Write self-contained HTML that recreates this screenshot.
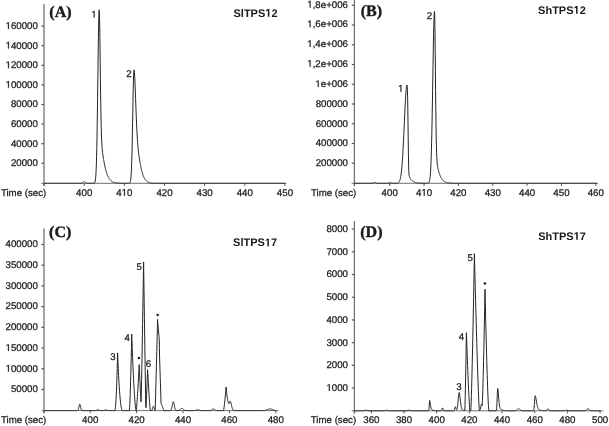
<!DOCTYPE html>
<html><head><meta charset="utf-8"><style>
html,body{margin:0;padding:0;background:#fff;overflow:hidden}
svg{display:block;filter:blur(0.3px)}
</style></head><body>
<svg width="609" height="426" viewBox="0 0 609 426" font-family='"Liberation Sans", sans-serif'>
<rect width="609" height="426" fill="#fff"/>
<g opacity="0.999" text-rendering="geometricPrecision">
<line x1="44.00" y1="4.00" x2="44.00" y2="185.90" stroke="#9a9a9a" stroke-width="1.8"/>
<line x1="41.20" y1="183.30" x2="286.50" y2="183.30" stroke="#707070" stroke-width="1.0"/>
<line x1="44.00" y1="183.30" x2="44.00" y2="185.90" stroke="#555" stroke-width="1"/>
<line x1="84.20" y1="183.30" x2="84.20" y2="185.90" stroke="#555" stroke-width="1"/>
<g transform="translate(84.20,192.40)"><text x="-8.09" y="3.34" font-family='"Liberation Sans", sans-serif' font-weight="normal" font-size="9.7" fill="#1a1a1a" stroke="#1a1a1a" stroke-width="0.25">400</text></g>
<line x1="124.35" y1="183.30" x2="124.35" y2="185.90" stroke="#555" stroke-width="1"/>
<g transform="translate(124.35,192.40)"><text x="-8.09" y="3.34" font-family='"Liberation Sans", sans-serif' font-weight="normal" font-size="9.7" fill="#1a1a1a" stroke="#1a1a1a" stroke-width="0.25">4 0</text><path transform="translate(-2.70,3.34) scale(0.004736,-0.004736)" d="M515,0 L515,1237 L197,1010 L197,1180 L530,1409 L696,1409 L696,0 Z" fill="#1a1a1a" stroke="#1a1a1a" stroke-width="52.8"/></g>
<line x1="164.50" y1="183.30" x2="164.50" y2="185.90" stroke="#555" stroke-width="1"/>
<g transform="translate(164.50,192.40)"><text x="-8.09" y="3.34" font-family='"Liberation Sans", sans-serif' font-weight="normal" font-size="9.7" fill="#1a1a1a" stroke="#1a1a1a" stroke-width="0.25">420</text></g>
<line x1="204.65" y1="183.30" x2="204.65" y2="185.90" stroke="#555" stroke-width="1"/>
<g transform="translate(204.65,192.40)"><text x="-8.09" y="3.34" font-family='"Liberation Sans", sans-serif' font-weight="normal" font-size="9.7" fill="#1a1a1a" stroke="#1a1a1a" stroke-width="0.25">430</text></g>
<line x1="244.80" y1="183.30" x2="244.80" y2="185.90" stroke="#555" stroke-width="1"/>
<g transform="translate(244.80,192.40)"><text x="-8.09" y="3.34" font-family='"Liberation Sans", sans-serif' font-weight="normal" font-size="9.7" fill="#1a1a1a" stroke="#1a1a1a" stroke-width="0.25">440</text></g>
<line x1="284.95" y1="183.30" x2="284.95" y2="185.90" stroke="#555" stroke-width="1"/>
<g transform="translate(284.95,192.40)"><text x="-8.09" y="3.34" font-family='"Liberation Sans", sans-serif' font-weight="normal" font-size="9.7" fill="#1a1a1a" stroke="#1a1a1a" stroke-width="0.25">450</text></g>
<line x1="41.40" y1="163.30" x2="44.00" y2="163.30" stroke="#555" stroke-width="1.2"/>
<g transform="translate(24.41,162.80)"><text x="-13.49" y="3.34" font-family='"Liberation Sans", sans-serif' font-weight="normal" font-size="9.7" fill="#1a1a1a" stroke="#1a1a1a" stroke-width="0.25">20000</text></g>
<line x1="41.40" y1="143.70" x2="44.00" y2="143.70" stroke="#555" stroke-width="1.2"/>
<g transform="translate(24.41,143.20)"><text x="-13.49" y="3.34" font-family='"Liberation Sans", sans-serif' font-weight="normal" font-size="9.7" fill="#1a1a1a" stroke="#1a1a1a" stroke-width="0.25">40000</text></g>
<line x1="41.40" y1="124.10" x2="44.00" y2="124.10" stroke="#555" stroke-width="1.2"/>
<g transform="translate(24.41,123.60)"><text x="-13.49" y="3.34" font-family='"Liberation Sans", sans-serif' font-weight="normal" font-size="9.7" fill="#1a1a1a" stroke="#1a1a1a" stroke-width="0.25">60000</text></g>
<line x1="41.40" y1="104.50" x2="44.00" y2="104.50" stroke="#555" stroke-width="1.2"/>
<g transform="translate(24.41,104.00)"><text x="-13.49" y="3.34" font-family='"Liberation Sans", sans-serif' font-weight="normal" font-size="9.7" fill="#1a1a1a" stroke="#1a1a1a" stroke-width="0.25">80000</text></g>
<line x1="41.40" y1="84.90" x2="44.00" y2="84.90" stroke="#555" stroke-width="1.2"/>
<g transform="translate(21.72,84.40)"><text x="-16.18" y="3.34" font-family='"Liberation Sans", sans-serif' font-weight="normal" font-size="9.7" fill="#1a1a1a" stroke="#1a1a1a" stroke-width="0.25"> 00000</text><path transform="translate(-16.18,3.34) scale(0.004736,-0.004736)" d="M515,0 L515,1237 L197,1010 L197,1180 L530,1409 L696,1409 L696,0 Z" fill="#1a1a1a" stroke="#1a1a1a" stroke-width="52.8"/></g>
<line x1="41.40" y1="65.30" x2="44.00" y2="65.30" stroke="#555" stroke-width="1.2"/>
<g transform="translate(21.72,64.80)"><text x="-16.18" y="3.34" font-family='"Liberation Sans", sans-serif' font-weight="normal" font-size="9.7" fill="#1a1a1a" stroke="#1a1a1a" stroke-width="0.25"> 20000</text><path transform="translate(-16.18,3.34) scale(0.004736,-0.004736)" d="M515,0 L515,1237 L197,1010 L197,1180 L530,1409 L696,1409 L696,0 Z" fill="#1a1a1a" stroke="#1a1a1a" stroke-width="52.8"/></g>
<line x1="41.40" y1="45.70" x2="44.00" y2="45.70" stroke="#555" stroke-width="1.2"/>
<g transform="translate(21.72,45.20)"><text x="-16.18" y="3.34" font-family='"Liberation Sans", sans-serif' font-weight="normal" font-size="9.7" fill="#1a1a1a" stroke="#1a1a1a" stroke-width="0.25"> 40000</text><path transform="translate(-16.18,3.34) scale(0.004736,-0.004736)" d="M515,0 L515,1237 L197,1010 L197,1180 L530,1409 L696,1409 L696,0 Z" fill="#1a1a1a" stroke="#1a1a1a" stroke-width="52.8"/></g>
<line x1="41.40" y1="26.10" x2="44.00" y2="26.10" stroke="#555" stroke-width="1.2"/>
<g transform="translate(21.72,25.60)"><text x="-16.18" y="3.34" font-family='"Liberation Sans", sans-serif' font-weight="normal" font-size="9.7" fill="#1a1a1a" stroke="#1a1a1a" stroke-width="0.25"> 60000</text><path transform="translate(-16.18,3.34) scale(0.004736,-0.004736)" d="M515,0 L515,1237 L197,1010 L197,1180 L530,1409 L696,1409 L696,0 Z" fill="#1a1a1a" stroke="#1a1a1a" stroke-width="52.8"/></g>
<path d="M44.00,183.30 L44.20,183.30 L44.40,183.30 L44.60,183.30 L44.80,183.30 L45.00,183.30 L45.20,183.30 L45.40,183.30 L45.60,183.30 L45.80,183.30 L46.00,183.30 L46.20,183.30 L46.40,183.30 L46.60,183.30 L46.80,183.30 L47.00,183.30 L47.20,183.30 L47.40,183.30 L47.60,183.30 L47.80,183.30 L48.00,183.30 L48.20,183.30 L48.40,183.30 L48.60,183.30 L48.80,183.30 L49.00,183.30 L49.20,183.30 L49.40,183.30 L49.60,183.30 L49.80,183.30 L50.00,183.30 L50.20,183.30 L50.40,183.30 L50.60,183.30 L50.80,183.30 L51.00,183.30 L51.20,183.30 L51.40,183.30 L51.60,183.30 L51.80,183.30 L52.00,183.30 L52.20,183.30 L52.40,183.30 L52.60,183.30 L52.80,183.30 L53.00,183.30 L53.20,183.30 L53.40,183.30 L53.60,183.30 L53.80,183.30 L54.00,183.30 L54.20,183.30 L54.40,183.30 L54.60,183.30 L54.80,183.30 L55.00,183.30 L55.20,183.30 L55.40,183.30 L55.60,183.30 L55.80,183.30 L56.00,183.30 L56.20,183.30 L56.40,183.30 L56.60,183.30 L56.80,183.30 L57.00,183.30 L57.20,183.30 L57.40,183.30 L57.60,183.30 L57.80,183.30 L58.00,183.30 L58.20,183.30 L58.40,183.30 L58.60,183.30 L58.80,183.30 L59.00,183.30 L59.20,183.30 L59.40,183.30 L59.60,183.30 L59.80,183.30 L60.00,183.30 L60.20,183.30 L60.40,183.30 L60.60,183.30 L60.80,183.30 L61.00,183.30 L61.20,183.30 L61.40,183.30 L61.60,183.30 L61.80,183.30 L62.00,183.30 L62.20,183.30 L62.40,183.30 L62.60,183.30 L62.80,183.30 L63.00,183.30 L63.20,183.30 L63.40,183.30 L63.60,183.30 L63.80,183.30 L64.00,183.30 L64.20,183.30 L64.40,183.30 L64.60,183.30 L64.80,183.30 L65.00,183.30 L65.20,183.30 L65.40,183.30 L65.60,183.30 L65.80,183.30 L66.00,183.30 L66.20,183.30 L66.40,183.30 L66.60,183.30 L66.80,183.30 L67.00,183.30 L67.20,183.30 L67.40,183.30 L67.60,183.30 L67.80,183.30 L68.00,183.30 L68.20,183.30 L68.40,183.30 L68.60,183.30 L68.80,183.30 L69.00,183.30 L69.20,183.30 L69.40,183.30 L69.60,183.30 L69.80,183.30 L70.00,183.30 L70.20,183.30 L70.40,183.30 L70.60,183.30 L70.80,183.30 L71.00,183.30 L71.20,183.30 L71.40,183.30 L71.60,183.30 L71.80,183.30 L72.00,183.30 L72.20,183.30 L72.40,183.30 L72.60,183.30 L72.80,183.30 L73.00,183.30 L73.20,183.30 L73.40,183.30 L73.60,183.30 L73.80,183.30 L74.00,183.30 L74.20,183.30 L74.40,183.30 L74.60,183.30 L74.80,183.30 L75.00,183.30 L75.20,183.30 L75.40,183.30 L75.60,183.30 L75.80,183.30 L76.00,183.30 L76.20,183.30 L76.40,183.30 L76.60,183.30 L76.80,183.30 L77.00,183.30 L77.20,183.30 L77.40,183.30 L77.60,183.30 L77.80,183.30 L78.00,183.30 L78.20,183.30 L78.40,183.30 L78.60,183.30 L78.80,183.30 L79.00,183.30 L79.20,183.30 L79.40,183.30 L79.60,183.30 L79.80,183.30 L80.00,183.30 L80.20,183.30 L80.40,183.30 L80.60,183.30 L80.80,183.30 L81.00,183.29 L81.20,183.29 L81.40,183.27 L81.60,183.25 L81.80,183.22 L82.00,183.17 L82.20,183.10 L82.40,183.00 L82.60,182.88 L82.80,182.72 L83.00,182.53 L83.20,182.32 L83.40,182.10 L83.60,181.89 L83.80,181.71 L84.00,181.58 L84.20,181.51 L84.30,181.50 L84.40,181.51 L84.60,181.58 L84.80,181.71 L85.00,181.89 L85.20,182.10 L85.40,182.32 L85.60,182.53 L85.80,182.72 L86.00,182.88 L86.20,183.00 L86.40,183.10 L86.60,183.17 L86.80,183.22 L87.00,183.25 L87.20,183.27 L87.40,183.29 L87.60,183.29 L87.80,183.30 L88.00,183.30 L88.20,183.30 L88.40,183.30 L88.60,183.30 L88.80,183.30 L89.00,183.30 L89.20,183.30 L89.40,183.30 L89.60,183.30 L89.80,183.30 L90.00,183.30 L90.20,183.30 L90.40,183.30 L90.60,183.30 L90.80,183.30 L91.00,183.30 L91.20,183.30 L91.40,183.30 L91.60,183.30 L91.80,183.30 L92.00,183.30 L92.20,183.30 L92.40,183.30 L92.60,183.30 L92.80,183.30 L93.00,183.30 L93.20,183.29 L93.40,183.28 L93.60,183.27 L93.80,183.24 L94.00,183.20 L94.20,183.12 L94.40,182.99 L94.60,182.78 L94.80,182.44 L95.00,181.93 L95.20,181.15 L95.40,180.00 L95.60,178.34 L95.80,176.02 L96.00,172.85 L96.20,168.61 L96.40,163.11 L96.60,156.14 L96.80,147.57 L97.00,137.31 L97.20,125.40 L97.40,111.97 L97.60,97.34 L97.80,81.96 L98.00,66.42 L98.20,51.43 L98.40,37.74 L98.60,26.12 L98.80,17.25 L99.00,11.69 L99.20,9.80 L99.40,12.98 L99.60,20.91 L99.80,32.65 L100.00,47.01 L100.20,62.67 L100.40,78.39 L100.60,93.16 L100.80,106.27 L101.00,117.36 L101.20,126.36 L101.40,133.45 L101.60,138.90 L101.80,143.07 L102.00,146.28 L102.20,148.81 L102.40,150.88 L102.60,152.64 L102.80,154.21 L103.00,155.64 L103.20,156.99 L103.40,158.27 L103.60,159.49 L103.80,160.66 L104.00,161.79 L104.20,162.87 L104.40,163.92 L104.60,164.92 L104.80,165.87 L105.00,166.79 L105.20,167.67 L105.40,168.51 L105.60,169.31 L105.80,170.08 L106.00,170.81 L106.20,171.50 L106.40,172.16 L106.60,172.79 L106.80,173.39 L107.00,173.96 L107.20,174.50 L107.40,175.02 L107.60,175.50 L107.80,175.96 L108.00,176.40 L108.20,176.81 L108.40,177.21 L108.60,177.58 L108.80,177.93 L109.00,178.26 L109.20,178.57 L109.40,178.86 L109.60,179.14 L109.80,179.40 L110.00,179.65 L110.20,179.88 L110.40,180.10 L110.60,180.30 L110.80,180.50 L111.00,180.68 L111.20,180.85 L111.40,181.01 L111.60,181.16 L111.80,181.30 L112.00,181.44 L112.20,181.56 L112.40,181.68 L112.60,181.79 L112.80,181.89 L113.00,181.98 L113.20,182.07 L113.40,182.16 L113.60,182.24 L113.80,182.31 L114.00,182.38 L114.20,182.44 L114.40,182.50 L114.60,182.56 L114.80,182.61 L115.00,182.66 L115.20,182.71 L115.40,182.75 L115.60,182.79 L115.80,182.82 L116.00,182.86 L116.20,182.89 L116.40,182.92 L116.60,182.95 L116.80,182.97 L117.00,183.00 L117.20,183.02 L117.40,183.04 L117.60,183.06 L117.80,183.08 L118.00,183.09 L118.20,183.11 L118.40,183.12 L118.60,183.14 L118.80,183.15 L119.00,183.16 L119.20,183.17 L119.40,183.18 L119.60,183.19 L119.80,183.20 L120.00,183.21 L120.20,183.21 L120.40,183.22 L120.60,183.23 L120.80,183.23 L121.00,183.24 L121.20,183.24 L121.40,183.25 L121.60,183.25 L121.80,183.25 L122.00,183.26 L122.20,183.26 L122.40,183.26 L122.60,183.27 L122.80,183.27 L123.00,183.27 L123.20,183.27 L123.40,183.28 L123.60,183.28 L123.80,183.28 L124.00,183.28 L124.20,183.28 L124.40,183.28 L124.60,183.29 L124.80,183.29 L125.00,183.29 L125.20,183.29 L125.40,183.29 L125.60,183.29 L125.80,183.29 L126.00,183.29 L126.20,183.29 L126.40,183.29 L126.60,183.29 L126.80,183.29 L127.00,183.29 L127.20,183.30 L127.40,183.30 L127.60,183.30 L127.80,183.30 L128.00,183.30 L128.20,183.29 L128.40,183.29 L128.60,183.29 L128.80,183.28 L129.00,183.26 L129.20,183.23 L129.40,183.17 L129.60,183.07 L129.80,182.90 L130.00,182.62 L130.20,182.18 L130.40,181.50 L130.60,180.49 L130.80,179.01 L131.00,176.93 L131.20,174.06 L131.40,170.25 L131.60,165.33 L131.80,159.18 L132.00,151.74 L132.20,143.05 L132.40,133.27 L132.60,122.68 L132.80,111.71 L133.00,100.88 L133.20,90.82 L133.40,82.15 L133.60,75.46 L133.80,71.24 L134.00,69.80 L134.20,70.49 L134.40,72.29 L134.60,75.06 L134.80,78.68 L135.00,83.01 L135.20,87.87 L135.40,93.12 L135.60,98.58 L135.80,104.10 L136.00,109.56 L136.20,114.82 L136.40,119.82 L136.60,124.49 L136.80,128.79 L137.00,132.71 L137.20,136.25 L137.40,139.44 L137.60,142.29 L137.80,144.86 L138.00,147.16 L138.20,149.24 L138.40,151.13 L138.60,152.87 L138.80,154.48 L139.00,155.98 L139.20,157.39 L139.40,158.73 L139.60,160.00 L139.80,161.21 L140.00,162.37 L140.20,163.49 L140.40,164.56 L140.60,165.58 L140.80,166.57 L141.00,167.51 L141.20,168.42 L141.40,169.29 L141.60,170.12 L141.80,170.91 L142.00,171.66 L142.20,172.38 L142.40,173.07 L142.60,173.72 L142.80,174.34 L143.00,174.92 L143.20,175.48 L143.40,176.00 L143.60,176.50 L143.80,176.96 L144.00,177.40 L144.20,177.82 L144.40,178.21 L144.60,178.57 L144.80,178.92 L145.00,179.24 L145.20,179.54 L145.40,179.82 L145.60,180.09 L145.80,180.33 L146.00,180.56 L146.20,180.78 L146.40,180.97 L146.60,181.16 L146.80,181.33 L147.00,181.49 L147.20,181.64 L147.40,181.78 L147.60,181.90 L147.80,182.02 L148.00,182.13 L148.20,182.23 L148.40,182.32 L148.60,182.40 L148.80,182.48 L149.00,182.55 L149.20,182.62 L149.40,182.68 L149.60,182.74 L149.80,182.79 L150.00,182.83 L150.20,182.88 L150.40,182.92 L150.60,182.95 L150.80,182.98 L151.00,183.01 L151.20,183.04 L151.40,183.07 L151.60,183.09 L151.80,183.11 L152.00,183.13 L152.20,183.15 L152.40,183.16 L152.60,183.17 L152.80,183.19 L153.00,183.20 L153.20,183.21 L153.40,183.22 L153.60,183.23 L153.80,183.23 L154.00,183.24 L154.20,183.25 L154.40,183.25 L154.60,183.26 L154.80,183.26 L155.00,183.27 L155.20,183.27 L155.40,183.27 L155.60,183.28 L155.80,183.28 L156.00,183.28 L156.20,183.28 L156.40,183.28 L156.60,183.29 L156.80,183.29 L157.00,183.29 L157.20,183.29 L157.40,183.29 L157.60,183.29 L157.80,183.29 L158.00,183.29 L158.20,183.29 L158.40,183.30 L158.60,183.30 L158.80,183.30 L159.00,183.30 L159.20,183.30 L159.40,183.30 L159.60,183.30 L159.80,183.30 L160.00,183.30 L160.20,183.30 L160.40,183.30 L160.60,183.30 L160.80,183.30 L161.00,183.30 L161.20,183.30 L161.40,183.30 L161.60,183.30 L161.80,183.30 L162.00,183.30 L162.20,183.30 L162.40,183.30 L162.60,183.30 L162.80,183.30 L163.00,183.30 L163.20,183.30 L163.40,183.30 L163.60,183.30 L163.80,183.30 L164.00,183.30 L164.20,183.30 L164.40,183.30 L164.60,183.30 L164.80,183.30 L165.00,183.30 L165.20,183.30 L165.40,183.30 L165.60,183.30 L165.80,183.30 L166.00,183.30 L166.20,183.30 L166.40,183.30 L166.60,183.30 L166.80,183.30 L167.00,183.30 L167.20,183.30 L167.40,183.30 L167.60,183.30 L167.80,183.30 L168.00,183.30 L168.20,183.30 L168.40,183.30 L168.60,183.30 L168.80,183.30 L169.00,183.30 L169.20,183.30 L169.40,183.30 L169.60,183.30 L169.80,183.30 L170.00,183.30 L170.20,183.30 L170.40,183.30 L170.60,183.30 L170.80,183.30 L171.00,183.30 L171.20,183.30 L171.40,183.30 L171.60,183.30 L171.80,183.30 L172.00,183.30 L172.20,183.30 L172.40,183.30 L172.60,183.30 L172.80,183.30 L173.00,183.30 L173.20,183.30 L173.40,183.30 L173.60,183.30 L173.80,183.30 L174.00,183.30 L174.20,183.30 L174.40,183.30 L174.60,183.30 L174.80,183.30 L175.00,183.30 L175.20,183.30 L175.40,183.30 L175.60,183.30 L175.80,183.30 L176.00,183.30 L176.20,183.30 L176.40,183.30 L176.60,183.30 L176.80,183.30 L177.00,183.30 L177.20,183.30 L177.40,183.30 L177.60,183.30 L177.80,183.30 L178.00,183.30 L178.20,183.30 L178.40,183.30 L178.60,183.30 L178.80,183.30 L179.00,183.30 L179.20,183.30 L179.40,183.30 L179.60,183.30 L179.80,183.30 L180.00,183.30 L180.20,183.30 L180.40,183.30 L180.60,183.30 L180.80,183.30 L181.00,183.30 L181.20,183.30 L181.40,183.30 L181.60,183.30 L181.80,183.30 L182.00,183.30 L182.20,183.30 L182.40,183.30 L182.60,183.30 L182.80,183.30 L183.00,183.30 L183.20,183.30 L183.40,183.30 L183.60,183.30 L183.80,183.30 L184.00,183.30 L184.20,183.30 L184.40,183.30 L184.60,183.30 L184.80,183.30 L185.00,183.30 L185.20,183.30 L185.40,183.30 L185.60,183.30 L185.80,183.30 L186.00,183.30 L186.20,183.30 L186.40,183.30 L186.60,183.30 L186.80,183.30 L187.00,183.30 L187.20,183.30 L187.40,183.30 L187.60,183.30 L187.80,183.30 L188.00,183.30 L188.20,183.30 L188.40,183.30 L188.60,183.30 L188.80,183.30 L189.00,183.30 L189.20,183.30 L189.40,183.30 L189.60,183.30 L189.80,183.30 L190.00,183.30 L190.20,183.30 L190.40,183.30 L190.60,183.30 L190.80,183.30 L191.00,183.30 L191.20,183.30 L191.40,183.30 L191.60,183.30 L191.80,183.30 L192.00,183.30 L192.20,183.30 L192.40,183.30 L192.60,183.30 L192.80,183.30 L193.00,183.30 L193.20,183.30 L193.40,183.30 L193.60,183.30 L193.80,183.30 L194.00,183.30 L194.20,183.30 L194.40,183.30 L194.60,183.30 L194.80,183.30 L195.00,183.30 L195.20,183.30 L195.40,183.30 L195.60,183.30 L195.80,183.30 L196.00,183.30 L196.20,183.30 L196.40,183.30 L196.60,183.30 L196.80,183.30 L197.00,183.30 L197.20,183.30 L197.40,183.30 L197.60,183.30 L197.80,183.30 L198.00,183.30 L198.20,183.30 L198.40,183.30 L198.60,183.30 L198.80,183.30 L199.00,183.30 L199.20,183.30 L199.40,183.30 L199.60,183.30 L199.80,183.30 L200.00,183.30 L200.20,183.30 L200.40,183.30 L200.60,183.30 L200.80,183.30 L201.00,183.30 L201.20,183.30 L201.40,183.30 L201.60,183.30 L201.80,183.30 L202.00,183.30 L202.20,183.30 L202.40,183.30 L202.60,183.30 L202.80,183.30 L203.00,183.30 L203.20,183.30 L203.40,183.30 L203.60,183.30 L203.80,183.30 L204.00,183.30 L204.20,183.30 L204.40,183.30 L204.60,183.30 L204.80,183.30 L205.00,183.30 L205.20,183.30 L205.40,183.30 L205.60,183.30 L205.80,183.30 L206.00,183.30 L206.20,183.30 L206.40,183.30 L206.60,183.30 L206.80,183.30 L207.00,183.30 L207.20,183.30 L207.40,183.30 L207.60,183.30 L207.80,183.30 L208.00,183.30 L208.20,183.30 L208.40,183.30 L208.60,183.30 L208.80,183.30 L209.00,183.30 L209.20,183.30 L209.40,183.30 L209.60,183.30 L209.80,183.30 L210.00,183.30 L210.20,183.30 L210.40,183.30 L210.60,183.30 L210.80,183.30 L211.00,183.30 L211.20,183.30 L211.40,183.30 L211.60,183.30 L211.80,183.30 L212.00,183.30 L212.20,183.30 L212.40,183.30 L212.60,183.30 L212.80,183.30 L213.00,183.30 L213.20,183.30 L213.40,183.30 L213.60,183.30 L213.80,183.30 L214.00,183.30 L214.20,183.30 L214.40,183.30 L214.60,183.30 L214.80,183.30 L215.00,183.30 L215.20,183.30 L215.40,183.30 L215.60,183.30 L215.80,183.30 L216.00,183.30 L216.20,183.30 L216.40,183.30 L216.60,183.30 L216.80,183.30 L217.00,183.30 L217.20,183.30 L217.40,183.30 L217.60,183.30 L217.80,183.30 L218.00,183.30 L218.20,183.30 L218.40,183.30 L218.60,183.30 L218.80,183.30 L219.00,183.30 L219.20,183.30 L219.40,183.30 L219.60,183.30 L219.80,183.30 L220.00,183.30 L220.20,183.30 L220.40,183.30 L220.60,183.30 L220.80,183.30 L221.00,183.30 L221.20,183.30 L221.40,183.30 L221.60,183.30 L221.80,183.30 L222.00,183.30 L222.20,183.30 L222.40,183.30 L222.60,183.30 L222.80,183.30 L223.00,183.30 L223.20,183.30 L223.40,183.30 L223.60,183.30 L223.80,183.30 L224.00,183.30 L224.20,183.30 L224.40,183.30 L224.60,183.30 L224.80,183.30 L225.00,183.30 L225.20,183.30 L225.40,183.30 L225.60,183.30 L225.80,183.30 L226.00,183.30 L226.20,183.30 L226.40,183.30 L226.60,183.30 L226.80,183.30 L227.00,183.30 L227.20,183.30 L227.40,183.30 L227.60,183.30 L227.80,183.30 L228.00,183.30 L228.20,183.30 L228.40,183.30 L228.60,183.30 L228.80,183.30 L229.00,183.30 L229.20,183.30 L229.40,183.30 L229.60,183.30 L229.80,183.30 L230.00,183.30 L230.20,183.30 L230.40,183.30 L230.60,183.30 L230.80,183.30 L231.00,183.30 L231.20,183.30 L231.40,183.30 L231.60,183.30 L231.80,183.30 L232.00,183.30 L232.20,183.30 L232.40,183.30 L232.60,183.30 L232.80,183.30 L233.00,183.30 L233.20,183.30 L233.40,183.30 L233.60,183.30 L233.80,183.30 L234.00,183.30 L234.20,183.30 L234.40,183.30 L234.60,183.30 L234.80,183.30 L235.00,183.30 L235.20,183.30 L235.40,183.30 L235.60,183.30 L235.80,183.30 L236.00,183.30 L236.20,183.30 L236.40,183.30 L236.60,183.30 L236.80,183.30 L237.00,183.30 L237.20,183.30 L237.40,183.30 L237.60,183.30 L237.80,183.30 L238.00,183.30 L238.20,183.30 L238.40,183.30 L238.60,183.30 L238.80,183.30 L239.00,183.30 L239.20,183.30 L239.40,183.30 L239.60,183.30 L239.80,183.30 L240.00,183.30 L240.20,183.30 L240.40,183.30 L240.60,183.30 L240.80,183.30 L241.00,183.30 L241.20,183.30 L241.40,183.30 L241.60,183.30 L241.80,183.30 L242.00,183.30 L242.20,183.30 L242.40,183.30 L242.60,183.30 L242.80,183.30 L243.00,183.30 L243.20,183.30 L243.40,183.30 L243.60,183.30 L243.80,183.30 L244.00,183.30 L244.20,183.30 L244.40,183.30 L244.60,183.30 L244.80,183.30 L245.00,183.30 L245.20,183.30 L245.40,183.30 L245.60,183.30 L245.80,183.30 L246.00,183.30 L246.20,183.30 L246.40,183.30 L246.60,183.30 L246.80,183.30 L247.00,183.30 L247.20,183.30 L247.40,183.30 L247.60,183.30 L247.80,183.30 L248.00,183.30 L248.20,183.30 L248.40,183.30 L248.60,183.30 L248.80,183.30 L249.00,183.30 L249.20,183.30 L249.40,183.30 L249.60,183.30 L249.80,183.30 L250.00,183.30 L250.20,183.30 L250.40,183.30 L250.60,183.30 L250.80,183.30 L251.00,183.30 L251.20,183.30 L251.40,183.30 L251.60,183.30 L251.80,183.30 L252.00,183.30 L252.20,183.30 L252.40,183.30 L252.60,183.30 L252.80,183.30 L253.00,183.30 L253.20,183.30 L253.40,183.30 L253.60,183.30 L253.80,183.30 L254.00,183.30 L254.20,183.30 L254.40,183.30 L254.60,183.30 L254.80,183.30 L255.00,183.30 L255.20,183.30 L255.40,183.30 L255.60,183.30 L255.80,183.30 L256.00,183.30 L256.20,183.30 L256.40,183.30 L256.60,183.30 L256.80,183.30 L257.00,183.30 L257.20,183.30 L257.40,183.30 L257.60,183.30 L257.80,183.30 L258.00,183.30 L258.20,183.30 L258.40,183.30 L258.60,183.30 L258.80,183.30 L259.00,183.30 L259.20,183.30 L259.40,183.30 L259.60,183.30 L259.80,183.30 L260.00,183.30 L260.20,183.30 L260.40,183.30 L260.60,183.30 L260.80,183.30 L261.00,183.30 L261.20,183.30 L261.40,183.30 L261.60,183.30 L261.80,183.30 L262.00,183.30 L262.20,183.30 L262.40,183.30 L262.60,183.30 L262.80,183.30 L263.00,183.30 L263.20,183.30 L263.40,183.30 L263.60,183.30 L263.80,183.30 L264.00,183.30 L264.20,183.30 L264.40,183.30 L264.60,183.30 L264.80,183.30 L265.00,183.30 L265.20,183.30 L265.40,183.30 L265.60,183.30 L265.80,183.30 L266.00,183.30 L266.20,183.30 L266.40,183.30 L266.60,183.30 L266.80,183.30 L267.00,183.30 L267.20,183.30 L267.40,183.30 L267.60,183.30 L267.80,183.30 L268.00,183.30 L268.20,183.30 L268.40,183.30 L268.60,183.30 L268.80,183.30 L269.00,183.30 L269.20,183.30 L269.40,183.30 L269.60,183.30 L269.80,183.30 L270.00,183.30 L270.20,183.30 L270.40,183.30 L270.60,183.30 L270.80,183.30 L271.00,183.30 L271.20,183.30 L271.40,183.30 L271.60,183.30 L271.80,183.30 L272.00,183.30 L272.20,183.30 L272.40,183.30 L272.60,183.30 L272.80,183.30 L273.00,183.30 L273.20,183.30 L273.40,183.30 L273.60,183.30 L273.80,183.30 L274.00,183.30 L274.20,183.30 L274.40,183.30 L274.60,183.30 L274.80,183.30 L275.00,183.30 L275.20,183.30 L275.40,183.30 L275.60,183.30 L275.80,183.30 L276.00,183.30 L276.20,183.30 L276.40,183.30 L276.60,183.30 L276.80,183.30 L277.00,183.30 L277.20,183.30 L277.40,183.30 L277.60,183.30 L277.80,183.30 L278.00,183.30 L278.20,183.30 L278.40,183.30 L278.60,183.30 L278.80,183.30 L279.00,183.30 L279.20,183.30 L279.40,183.30 L279.60,183.30 L279.80,183.30 L280.00,183.30 L280.20,183.30 L280.40,183.30 L280.60,183.30 L280.80,183.30 L281.00,183.30 L281.20,183.30 L281.40,183.30 L281.60,183.30 L281.80,183.30 L282.00,183.30 L282.20,183.30 L282.40,183.30 L282.60,183.30 L282.80,183.30 L283.00,183.30 L283.20,183.30 L283.40,183.30 L283.60,183.30 L283.80,183.30 L284.00,183.30 L284.20,183.30 L284.40,183.30 L284.60,183.30 L284.80,183.30 L285.00,183.30" fill="none" stroke="#222" stroke-width="1.0" stroke-linejoin="round"/>
<g transform="translate(23.60,193.70)"><text x="-22.72" y="2.51" font-family='"Liberation Sans", sans-serif' font-weight="normal" font-size="9.7" fill="#1a1a1a" stroke="#1a1a1a" stroke-width="0.25">Time (sec)</text></g>
<g transform="translate(60.40,12.90)"><text x="-11.10" y="3.85" font-family='"Liberation Serif", serif' font-weight="bold" font-size="16" fill="#1a1a1a" stroke="#1a1a1a" stroke-width="0.4">(A)</text></g>
<g transform="translate(255.50,12.75)"><text x="-22.01" y="3.93" font-family='"Liberation Sans", sans-serif' font-weight="bold" font-size="11" fill="#1a1a1a">SlTPS 2</text><path transform="translate(9.78,3.93) scale(0.005371,-0.005371)" d="M478,0 L478,1170 L140,959 L140,1180 L493,1409 L759,1409 L759,0 Z" fill="#1a1a1a"/></g>
<g transform="translate(93.95,14.25)"><text x="-2.70" y="3.34" font-family='"Liberation Sans", sans-serif' font-weight="normal" font-size="9.7" fill="#1a1a1a" stroke="#1a1a1a" stroke-width="0.25"> </text><path transform="translate(-2.70,3.34) scale(0.004736,-0.004736)" d="M515,0 L515,1237 L197,1010 L197,1180 L530,1409 L696,1409 L696,0 Z" fill="#1a1a1a" stroke="#1a1a1a" stroke-width="52.8"/></g>
<g transform="translate(129.05,74.05)"><text x="-2.70" y="3.39" font-family='"Liberation Sans", sans-serif' font-weight="normal" font-size="9.7" fill="#1a1a1a" stroke="#1a1a1a" stroke-width="0.25">2</text></g>
<line x1="354.40" y1="0.00" x2="354.40" y2="185.90" stroke="#777" stroke-width="1.3"/>
<line x1="351.60" y1="183.30" x2="598.00" y2="183.30" stroke="#707070" stroke-width="1.0"/>
<line x1="354.40" y1="183.30" x2="354.40" y2="185.90" stroke="#555" stroke-width="1"/>
<line x1="389.70" y1="183.30" x2="389.70" y2="185.90" stroke="#555" stroke-width="1"/>
<g transform="translate(389.70,192.40)"><text x="-8.09" y="3.34" font-family='"Liberation Sans", sans-serif' font-weight="normal" font-size="9.7" fill="#1a1a1a" stroke="#1a1a1a" stroke-width="0.25">400</text></g>
<line x1="424.05" y1="183.30" x2="424.05" y2="185.90" stroke="#555" stroke-width="1"/>
<g transform="translate(424.05,192.40)"><text x="-8.09" y="3.34" font-family='"Liberation Sans", sans-serif' font-weight="normal" font-size="9.7" fill="#1a1a1a" stroke="#1a1a1a" stroke-width="0.25">4 0</text><path transform="translate(-2.70,3.34) scale(0.004736,-0.004736)" d="M515,0 L515,1237 L197,1010 L197,1180 L530,1409 L696,1409 L696,0 Z" fill="#1a1a1a" stroke="#1a1a1a" stroke-width="52.8"/></g>
<line x1="458.40" y1="183.30" x2="458.40" y2="185.90" stroke="#555" stroke-width="1"/>
<g transform="translate(458.40,192.40)"><text x="-8.09" y="3.34" font-family='"Liberation Sans", sans-serif' font-weight="normal" font-size="9.7" fill="#1a1a1a" stroke="#1a1a1a" stroke-width="0.25">420</text></g>
<line x1="492.75" y1="183.30" x2="492.75" y2="185.90" stroke="#555" stroke-width="1"/>
<g transform="translate(492.75,192.40)"><text x="-8.09" y="3.34" font-family='"Liberation Sans", sans-serif' font-weight="normal" font-size="9.7" fill="#1a1a1a" stroke="#1a1a1a" stroke-width="0.25">430</text></g>
<line x1="527.10" y1="183.30" x2="527.10" y2="185.90" stroke="#555" stroke-width="1"/>
<g transform="translate(527.10,192.40)"><text x="-8.09" y="3.34" font-family='"Liberation Sans", sans-serif' font-weight="normal" font-size="9.7" fill="#1a1a1a" stroke="#1a1a1a" stroke-width="0.25">440</text></g>
<line x1="561.45" y1="183.30" x2="561.45" y2="185.90" stroke="#555" stroke-width="1"/>
<g transform="translate(561.45,192.40)"><text x="-8.09" y="3.34" font-family='"Liberation Sans", sans-serif' font-weight="normal" font-size="9.7" fill="#1a1a1a" stroke="#1a1a1a" stroke-width="0.25">450</text></g>
<line x1="595.80" y1="183.30" x2="595.80" y2="185.90" stroke="#555" stroke-width="1"/>
<g transform="translate(595.80,192.40)"><text x="-8.09" y="3.34" font-family='"Liberation Sans", sans-serif' font-weight="normal" font-size="9.7" fill="#1a1a1a" stroke="#1a1a1a" stroke-width="0.25">460</text></g>
<line x1="351.80" y1="163.25" x2="354.40" y2="163.25" stroke="#555" stroke-width="1.2"/>
<g transform="translate(331.82,162.75)"><text x="-16.18" y="3.34" font-family='"Liberation Sans", sans-serif' font-weight="normal" font-size="9.7" fill="#1a1a1a" stroke="#1a1a1a" stroke-width="0.25">200000</text></g>
<line x1="351.80" y1="143.50" x2="354.40" y2="143.50" stroke="#555" stroke-width="1.2"/>
<g transform="translate(331.82,143.00)"><text x="-16.18" y="3.34" font-family='"Liberation Sans", sans-serif' font-weight="normal" font-size="9.7" fill="#1a1a1a" stroke="#1a1a1a" stroke-width="0.25">400000</text></g>
<line x1="351.80" y1="123.75" x2="354.40" y2="123.75" stroke="#555" stroke-width="1.2"/>
<g transform="translate(331.82,123.25)"><text x="-16.18" y="3.34" font-family='"Liberation Sans", sans-serif' font-weight="normal" font-size="9.7" fill="#1a1a1a" stroke="#1a1a1a" stroke-width="0.25">600000</text></g>
<line x1="351.80" y1="104.00" x2="354.40" y2="104.00" stroke="#555" stroke-width="1.2"/>
<g transform="translate(331.82,103.50)"><text x="-16.18" y="3.34" font-family='"Liberation Sans", sans-serif' font-weight="normal" font-size="9.7" fill="#1a1a1a" stroke="#1a1a1a" stroke-width="0.25">800000</text></g>
<line x1="351.80" y1="84.25" x2="354.40" y2="84.25" stroke="#555" stroke-width="1.2"/>
<g transform="translate(331.68,83.75)"><text x="-16.32" y="3.34" font-family='"Liberation Sans", sans-serif' font-weight="normal" font-size="9.7" fill="#1a1a1a" stroke="#1a1a1a" stroke-width="0.25"> e+006</text><path transform="translate(-16.32,3.34) scale(0.004736,-0.004736)" d="M515,0 L515,1237 L197,1010 L197,1180 L530,1409 L696,1409 L696,0 Z" fill="#1a1a1a" stroke="#1a1a1a" stroke-width="52.8"/></g>
<line x1="351.80" y1="64.50" x2="354.40" y2="64.50" stroke="#555" stroke-width="1.2"/>
<g transform="translate(327.63,64.00)"><text x="-20.37" y="2.76" font-family='"Liberation Sans", sans-serif' font-weight="normal" font-size="9.7" fill="#1a1a1a" stroke="#1a1a1a" stroke-width="0.25"> ,2e+006</text><path transform="translate(-20.37,2.76) scale(0.004736,-0.004736)" d="M515,0 L515,1237 L197,1010 L197,1180 L530,1409 L696,1409 L696,0 Z" fill="#1a1a1a" stroke="#1a1a1a" stroke-width="52.8"/></g>
<line x1="351.80" y1="44.75" x2="354.40" y2="44.75" stroke="#555" stroke-width="1.2"/>
<g transform="translate(327.63,44.25)"><text x="-20.37" y="2.76" font-family='"Liberation Sans", sans-serif' font-weight="normal" font-size="9.7" fill="#1a1a1a" stroke="#1a1a1a" stroke-width="0.25"> ,4e+006</text><path transform="translate(-20.37,2.76) scale(0.004736,-0.004736)" d="M515,0 L515,1237 L197,1010 L197,1180 L530,1409 L696,1409 L696,0 Z" fill="#1a1a1a" stroke="#1a1a1a" stroke-width="52.8"/></g>
<line x1="351.80" y1="25.00" x2="354.40" y2="25.00" stroke="#555" stroke-width="1.2"/>
<g transform="translate(327.63,24.50)"><text x="-20.37" y="2.76" font-family='"Liberation Sans", sans-serif' font-weight="normal" font-size="9.7" fill="#1a1a1a" stroke="#1a1a1a" stroke-width="0.25"> ,6e+006</text><path transform="translate(-20.37,2.76) scale(0.004736,-0.004736)" d="M515,0 L515,1237 L197,1010 L197,1180 L530,1409 L696,1409 L696,0 Z" fill="#1a1a1a" stroke="#1a1a1a" stroke-width="52.8"/></g>
<line x1="351.80" y1="5.25" x2="354.40" y2="5.25" stroke="#555" stroke-width="1.2"/>
<g transform="translate(327.63,4.75)"><text x="-20.37" y="2.76" font-family='"Liberation Sans", sans-serif' font-weight="normal" font-size="9.7" fill="#1a1a1a" stroke="#1a1a1a" stroke-width="0.25"> ,8e+006</text><path transform="translate(-20.37,2.76) scale(0.004736,-0.004736)" d="M515,0 L515,1237 L197,1010 L197,1180 L530,1409 L696,1409 L696,0 Z" fill="#1a1a1a" stroke="#1a1a1a" stroke-width="52.8"/></g>
<path d="M354.40,183.30 L354.60,183.30 L354.80,183.30 L355.00,183.30 L355.20,183.30 L355.40,183.30 L355.60,183.30 L355.80,183.30 L356.00,183.30 L356.20,183.30 L356.40,183.30 L356.60,183.30 L356.80,183.30 L357.00,183.30 L357.20,183.30 L357.40,183.30 L357.60,183.30 L357.80,183.30 L358.00,183.30 L358.20,183.30 L358.40,183.30 L358.60,183.30 L358.80,183.30 L359.00,183.30 L359.20,183.30 L359.40,183.30 L359.60,183.30 L359.80,183.30 L360.00,183.30 L360.20,183.30 L360.40,183.30 L360.60,183.30 L360.80,183.30 L361.00,183.30 L361.20,183.30 L361.40,183.30 L361.60,183.30 L361.80,183.30 L362.00,183.30 L362.20,183.30 L362.40,183.30 L362.60,183.30 L362.80,183.30 L363.00,183.30 L363.20,183.30 L363.40,183.30 L363.60,183.30 L363.80,183.30 L364.00,183.30 L364.20,183.30 L364.40,183.30 L364.60,183.30 L364.80,183.30 L365.00,183.30 L365.20,183.30 L365.40,183.30 L365.60,183.30 L365.80,183.30 L366.00,183.30 L366.20,183.30 L366.40,183.30 L366.60,183.30 L366.80,183.30 L367.00,183.30 L367.20,183.30 L367.40,183.30 L367.60,183.30 L367.80,183.30 L368.00,183.30 L368.20,183.30 L368.40,183.30 L368.60,183.30 L368.80,183.30 L369.00,183.30 L369.20,183.30 L369.40,183.30 L369.60,183.30 L369.80,183.30 L370.00,183.30 L370.20,183.30 L370.40,183.30 L370.60,183.30 L370.80,183.30 L371.00,183.30 L371.20,183.30 L371.40,183.30 L371.60,183.30 L371.80,183.30 L372.00,183.29 L372.20,183.28 L372.40,183.27 L372.60,183.26 L372.80,183.23 L373.00,183.19 L373.20,183.14 L373.40,183.08 L373.60,183.00 L373.80,182.91 L374.00,182.81 L374.20,182.72 L374.40,182.63 L374.60,182.56 L374.80,182.52 L375.00,182.50 L375.20,182.52 L375.40,182.56 L375.60,182.63 L375.80,182.72 L376.00,182.81 L376.20,182.91 L376.40,183.00 L376.60,183.08 L376.80,183.14 L377.00,183.19 L377.20,183.23 L377.40,183.26 L377.60,183.27 L377.80,183.28 L378.00,183.29 L378.20,183.30 L378.40,183.30 L378.60,183.30 L378.80,183.30 L379.00,183.30 L379.20,183.30 L379.40,183.30 L379.60,183.30 L379.80,183.30 L380.00,183.30 L380.20,183.30 L380.40,183.30 L380.60,183.30 L380.80,183.30 L381.00,183.30 L381.20,183.30 L381.40,183.30 L381.60,183.30 L381.80,183.30 L382.00,183.30 L382.20,183.30 L382.40,183.30 L382.60,183.30 L382.80,183.30 L383.00,183.30 L383.20,183.30 L383.40,183.30 L383.60,183.30 L383.80,183.30 L384.00,183.30 L384.20,183.30 L384.40,183.30 L384.60,183.30 L384.80,183.30 L385.00,183.30 L385.20,183.30 L385.40,183.30 L385.60,183.30 L385.80,183.30 L386.00,183.30 L386.20,183.30 L386.40,183.30 L386.60,183.30 L386.80,183.30 L387.00,183.30 L387.20,183.30 L387.40,183.29 L387.60,183.28 L387.80,183.26 L388.00,183.24 L388.20,183.19 L388.40,183.13 L388.60,183.04 L388.80,182.93 L389.00,182.81 L389.20,182.70 L389.40,182.59 L389.60,182.52 L389.80,182.50 L390.00,182.52 L390.20,182.59 L390.40,182.70 L390.60,182.81 L390.80,182.93 L391.00,183.04 L391.20,183.13 L391.40,183.19 L391.60,183.24 L391.80,183.26 L392.00,183.28 L392.20,183.29 L392.40,183.30 L392.60,183.30 L392.80,183.30 L393.00,183.30 L393.20,183.30 L393.40,183.30 L393.60,183.30 L393.80,183.30 L394.00,183.30 L394.20,183.30 L394.40,183.30 L394.60,183.30 L394.80,183.30 L395.00,183.29 L395.20,183.29 L395.40,183.29 L395.60,183.29 L395.80,183.28 L396.00,183.28 L396.20,183.27 L396.40,183.26 L396.60,183.24 L396.80,183.22 L397.00,183.20 L397.20,183.16 L397.40,183.12 L397.60,183.07 L397.80,183.00 L398.00,182.92 L398.20,182.81 L398.40,182.68 L398.60,182.52 L398.80,182.32 L399.00,182.08 L399.20,181.79 L399.40,181.43 L399.60,181.00 L399.80,180.49 L400.00,179.89 L400.20,179.18 L400.40,178.35 L400.60,177.38 L400.80,176.26 L401.00,174.98 L401.20,173.52 L401.40,171.86 L401.60,170.00 L401.80,167.91 L402.00,165.60 L402.20,163.06 L402.40,160.27 L402.60,157.25 L402.80,153.98 L403.00,150.49 L403.20,146.79 L403.40,142.89 L403.60,138.81 L403.80,134.60 L404.00,130.28 L404.20,125.89 L404.40,121.47 L404.60,117.08 L404.80,112.77 L405.00,108.59 L405.20,104.59 L405.40,100.83 L405.60,97.36 L405.80,94.24 L406.00,91.52 L406.20,89.22 L406.40,87.40 L406.60,86.07 L406.80,85.27 L407.00,85.00 L407.20,86.28 L407.40,89.47 L407.60,96.23 L407.80,107.32 L408.00,122.06 L408.20,138.20 L408.40,152.86 L408.60,163.87 L408.80,170.68 L409.00,174.20 L409.20,175.81 L409.40,176.59 L409.60,177.09 L409.80,177.50 L410.00,177.88 L410.20,178.23 L410.40,178.55 L410.60,178.86 L410.80,179.15 L411.00,179.41 L411.20,179.66 L411.40,179.90 L411.60,180.12 L411.80,180.32 L412.00,180.52 L412.20,180.69 L412.40,180.86 L412.60,181.02 L412.80,181.17 L413.00,181.30 L413.20,181.43 L413.40,181.55 L413.60,181.67 L413.80,181.77 L414.00,181.87 L414.20,181.96 L414.40,182.05 L414.60,182.13 L414.80,182.20 L415.00,182.28 L415.20,182.34 L415.40,182.40 L415.60,182.46 L415.80,182.52 L416.00,182.57 L416.20,182.61 L416.40,182.66 L416.60,182.70 L416.80,182.74 L417.00,182.77 L417.20,182.81 L417.40,182.84 L417.60,182.87 L417.80,182.90 L418.00,182.92 L418.20,182.95 L418.40,182.97 L418.60,182.99 L418.80,183.01 L419.00,183.03 L419.20,183.05 L419.40,183.06 L419.60,183.08 L419.80,183.09 L420.00,183.11 L420.20,183.12 L420.40,183.13 L420.60,183.14 L420.80,183.15 L421.00,183.16 L421.20,183.17 L421.40,183.18 L421.60,183.19 L421.80,183.19 L422.00,183.20 L422.20,183.21 L422.40,183.21 L422.60,183.22 L422.80,183.22 L423.00,183.23 L423.20,183.23 L423.40,183.24 L423.60,183.24 L423.80,183.25 L424.00,183.25 L424.20,183.25 L424.40,183.26 L424.60,183.26 L424.80,183.26 L425.00,183.26 L425.20,183.27 L425.40,183.27 L425.60,183.27 L425.80,183.27 L426.00,183.27 L426.20,183.27 L426.40,183.28 L426.60,183.28 L426.80,183.27 L427.00,183.27 L427.20,183.27 L427.40,183.26 L427.60,183.24 L427.80,183.21 L428.00,183.17 L428.20,183.11 L428.40,183.01 L428.60,182.87 L428.80,182.67 L429.00,182.37 L429.20,181.96 L429.40,181.38 L429.60,180.59 L429.80,179.53 L430.00,178.12 L430.20,176.28 L430.40,173.91 L430.60,170.92 L430.80,167.19 L431.00,162.64 L431.20,157.16 L431.40,150.68 L431.60,143.15 L431.80,134.57 L432.00,124.96 L432.20,114.42 L432.40,103.10 L432.60,91.19 L432.80,78.97 L433.00,66.76 L433.20,54.90 L433.40,43.79 L433.60,33.79 L433.80,25.28 L434.00,18.58 L434.20,13.96 L434.40,11.60 L434.50,11.30 L434.60,12.55 L434.80,20.24 L435.00,33.70 L435.20,51.21 L435.40,70.73 L435.60,90.28 L435.80,108.28 L436.00,123.71 L436.20,136.14 L436.40,145.63 L436.60,152.57 L436.80,157.49 L437.00,160.92 L437.20,163.34 L437.40,165.10 L437.60,166.46 L437.80,167.58 L438.00,168.55 L438.20,169.43 L438.40,170.25 L438.60,171.02 L438.80,171.74 L439.00,172.43 L439.20,173.08 L439.40,173.69 L439.60,174.28 L439.80,174.83 L440.00,175.35 L440.20,175.85 L440.40,176.31 L440.60,176.75 L440.80,177.17 L441.00,177.56 L441.20,177.93 L441.40,178.28 L441.60,178.60 L441.80,178.91 L442.00,179.20 L442.20,179.47 L442.40,179.72 L442.60,179.96 L442.80,180.18 L443.00,180.39 L443.20,180.59 L443.40,180.77 L443.60,180.94 L443.80,181.11 L444.00,181.26 L444.20,181.40 L444.40,181.53 L444.60,181.65 L444.80,181.77 L445.00,181.87 L445.20,181.98 L445.40,182.07 L445.60,182.16 L445.80,182.24 L446.00,182.31 L446.20,182.38 L446.40,182.45 L446.60,182.51 L446.80,182.57 L447.00,182.62 L447.20,182.67 L447.40,182.72 L447.60,182.76 L447.80,182.80 L448.00,182.84 L448.20,182.87 L448.40,182.90 L448.60,182.93 L448.80,182.96 L449.00,182.98 L449.20,183.01 L449.40,183.03 L449.60,183.05 L449.80,183.07 L450.00,183.09 L450.20,183.10 L450.40,183.12 L450.60,183.13 L450.80,183.14 L451.00,183.16 L451.20,183.17 L451.40,183.18 L451.60,183.19 L451.80,183.20 L452.00,183.20 L452.20,183.21 L452.40,183.22 L452.60,183.22 L452.80,183.23 L453.00,183.24 L453.20,183.24 L453.40,183.25 L453.60,183.25 L453.80,183.25 L454.00,183.26 L454.20,183.26 L454.40,183.26 L454.60,183.27 L454.80,183.27 L455.00,183.27 L455.20,183.27 L455.40,183.28 L455.60,183.28 L455.80,183.28 L456.00,183.28 L456.20,183.28 L456.40,183.28 L456.60,183.29 L456.80,183.29 L457.00,183.29 L457.20,183.29 L457.40,183.29 L457.60,183.29 L457.80,183.29 L458.00,183.29 L458.20,183.29 L458.40,183.29 L458.60,183.29 L458.80,183.29 L459.00,183.29 L459.20,183.30 L459.40,183.30 L459.60,183.30 L459.80,183.30 L460.00,183.30 L460.20,183.30 L460.40,183.30 L460.60,183.30 L460.80,183.30 L461.00,183.30 L461.20,183.30 L461.40,183.30 L461.60,183.30 L461.80,183.30 L462.00,183.30 L462.20,183.30 L462.40,183.30 L462.60,183.30 L462.80,183.30 L463.00,183.30 L463.20,183.30 L463.40,183.30 L463.60,183.30 L463.80,183.30 L464.00,183.30 L464.20,183.30 L464.40,183.30 L464.60,183.30 L464.80,183.30 L465.00,183.30 L465.20,183.30 L465.40,183.30 L465.60,183.30 L465.80,183.30 L466.00,183.30 L466.20,183.30 L466.40,183.30 L466.60,183.30 L466.80,183.30 L467.00,183.30 L467.20,183.30 L467.40,183.30 L467.60,183.30 L467.80,183.30 L468.00,183.30 L468.20,183.30 L468.40,183.30 L468.60,183.30 L468.80,183.30 L469.00,183.30 L469.20,183.30 L469.40,183.30 L469.60,183.30 L469.80,183.30 L470.00,183.30 L470.20,183.30 L470.40,183.30 L470.60,183.30 L470.80,183.30 L471.00,183.30 L471.20,183.30 L471.40,183.30 L471.60,183.30 L471.80,183.30 L472.00,183.30 L472.20,183.30 L472.40,183.30 L472.60,183.30 L472.80,183.30 L473.00,183.30 L473.20,183.30 L473.40,183.30 L473.60,183.30 L473.80,183.30 L474.00,183.30 L474.20,183.30 L474.40,183.30 L474.60,183.30 L474.80,183.30 L475.00,183.30 L475.20,183.30 L475.40,183.30 L475.60,183.30 L475.80,183.30 L476.00,183.30 L476.20,183.30 L476.40,183.30 L476.60,183.30 L476.80,183.30 L477.00,183.30 L477.20,183.30 L477.40,183.30 L477.60,183.30 L477.80,183.30 L478.00,183.30 L478.20,183.30 L478.40,183.30 L478.60,183.30 L478.80,183.30 L479.00,183.30 L479.20,183.30 L479.40,183.30 L479.60,183.30 L479.80,183.30 L480.00,183.30 L480.20,183.30 L480.40,183.30 L480.60,183.30 L480.80,183.30 L481.00,183.30 L481.20,183.30 L481.40,183.30 L481.60,183.30 L481.80,183.30 L482.00,183.30 L482.20,183.30 L482.40,183.30 L482.60,183.30 L482.80,183.30 L483.00,183.30 L483.20,183.30 L483.40,183.30 L483.60,183.30 L483.80,183.30 L484.00,183.30 L484.20,183.30 L484.40,183.30 L484.60,183.30 L484.80,183.30 L485.00,183.30 L485.20,183.30 L485.40,183.30 L485.60,183.30 L485.80,183.30 L486.00,183.30 L486.20,183.30 L486.40,183.30 L486.60,183.30 L486.80,183.30 L487.00,183.30 L487.20,183.30 L487.40,183.30 L487.60,183.30 L487.80,183.30 L488.00,183.30 L488.20,183.30 L488.40,183.30 L488.60,183.30 L488.80,183.30 L489.00,183.30 L489.20,183.30 L489.40,183.30 L489.60,183.30 L489.80,183.30 L490.00,183.30 L490.20,183.30 L490.40,183.30 L490.60,183.30 L490.80,183.30 L491.00,183.30 L491.20,183.30 L491.40,183.30 L491.60,183.30 L491.80,183.30 L492.00,183.30 L492.20,183.30 L492.40,183.30 L492.60,183.30 L492.80,183.30 L493.00,183.30 L493.20,183.30 L493.40,183.30 L493.60,183.30 L493.80,183.30 L494.00,183.30 L494.20,183.30 L494.40,183.30 L494.60,183.30 L494.80,183.30 L495.00,183.30 L495.20,183.30 L495.40,183.30 L495.60,183.30 L495.80,183.30 L496.00,183.30 L496.20,183.30 L496.40,183.30 L496.60,183.30 L496.80,183.30 L497.00,183.30 L497.20,183.30 L497.40,183.30 L497.60,183.30 L497.80,183.30 L498.00,183.30 L498.20,183.30 L498.40,183.30 L498.60,183.30 L498.80,183.30 L499.00,183.30 L499.20,183.30 L499.40,183.30 L499.60,183.30 L499.80,183.30 L500.00,183.30 L500.20,183.30 L500.40,183.30 L500.60,183.30 L500.80,183.30 L501.00,183.30 L501.20,183.30 L501.40,183.30 L501.60,183.30 L501.80,183.30 L502.00,183.30 L502.20,183.30 L502.40,183.30 L502.60,183.30 L502.80,183.30 L503.00,183.30 L503.20,183.30 L503.40,183.30 L503.60,183.30 L503.80,183.30 L504.00,183.30 L504.20,183.30 L504.40,183.30 L504.60,183.30 L504.80,183.30 L505.00,183.30 L505.20,183.30 L505.40,183.30 L505.60,183.30 L505.80,183.30 L506.00,183.30 L506.20,183.30 L506.40,183.30 L506.60,183.30 L506.80,183.30 L507.00,183.30 L507.20,183.30 L507.40,183.30 L507.60,183.30 L507.80,183.30 L508.00,183.30 L508.20,183.30 L508.40,183.30 L508.60,183.30 L508.80,183.30 L509.00,183.30 L509.20,183.30 L509.40,183.30 L509.60,183.30 L509.80,183.30 L510.00,183.30 L510.20,183.30 L510.40,183.30 L510.60,183.30 L510.80,183.30 L511.00,183.30 L511.20,183.30 L511.40,183.30 L511.60,183.30 L511.80,183.30 L512.00,183.30 L512.20,183.30 L512.40,183.30 L512.60,183.30 L512.80,183.30 L513.00,183.30 L513.20,183.30 L513.40,183.30 L513.60,183.30 L513.80,183.30 L514.00,183.30 L514.20,183.30 L514.40,183.30 L514.60,183.30 L514.80,183.30 L515.00,183.30 L515.20,183.30 L515.40,183.30 L515.60,183.30 L515.80,183.30 L516.00,183.30 L516.20,183.30 L516.40,183.30 L516.60,183.30 L516.80,183.30 L517.00,183.30 L517.20,183.30 L517.40,183.30 L517.60,183.30 L517.80,183.30 L518.00,183.30 L518.20,183.30 L518.40,183.30 L518.60,183.30 L518.80,183.30 L519.00,183.30 L519.20,183.30 L519.40,183.30 L519.60,183.30 L519.80,183.30 L520.00,183.30 L520.20,183.30 L520.40,183.30 L520.60,183.30 L520.80,183.30 L521.00,183.30 L521.20,183.30 L521.40,183.30 L521.60,183.30 L521.80,183.30 L522.00,183.30 L522.20,183.30 L522.40,183.30 L522.60,183.30 L522.80,183.30 L523.00,183.30 L523.20,183.30 L523.40,183.30 L523.60,183.30 L523.80,183.30 L524.00,183.30 L524.20,183.30 L524.40,183.30 L524.60,183.30 L524.80,183.30 L525.00,183.30 L525.20,183.30 L525.40,183.30 L525.60,183.30 L525.80,183.30 L526.00,183.30 L526.20,183.30 L526.40,183.30 L526.60,183.30 L526.80,183.30 L527.00,183.30 L527.20,183.30 L527.40,183.30 L527.60,183.30 L527.80,183.30 L528.00,183.30 L528.20,183.30 L528.40,183.30 L528.60,183.30 L528.80,183.30 L529.00,183.30 L529.20,183.30 L529.40,183.30 L529.60,183.30 L529.80,183.30 L530.00,183.30 L530.20,183.30 L530.40,183.30 L530.60,183.30 L530.80,183.30 L531.00,183.30 L531.20,183.30 L531.40,183.30 L531.60,183.30 L531.80,183.30 L532.00,183.30 L532.20,183.30 L532.40,183.30 L532.60,183.30 L532.80,183.30 L533.00,183.30 L533.20,183.30 L533.40,183.30 L533.60,183.30 L533.80,183.30 L534.00,183.30 L534.20,183.30 L534.40,183.30 L534.60,183.30 L534.80,183.30 L535.00,183.30 L535.20,183.30 L535.40,183.30 L535.60,183.30 L535.80,183.30 L536.00,183.30 L536.20,183.30 L536.40,183.30 L536.60,183.30 L536.80,183.30 L537.00,183.30 L537.20,183.30 L537.40,183.30 L537.60,183.30 L537.80,183.30 L538.00,183.30 L538.20,183.30 L538.40,183.30 L538.60,183.30 L538.80,183.30 L539.00,183.30 L539.20,183.30 L539.40,183.30 L539.60,183.30 L539.80,183.30 L540.00,183.30 L540.20,183.30 L540.40,183.30 L540.60,183.30 L540.80,183.30 L541.00,183.30 L541.20,183.30 L541.40,183.30 L541.60,183.30 L541.80,183.30 L542.00,183.30 L542.20,183.30 L542.40,183.30 L542.60,183.30 L542.80,183.30 L543.00,183.30 L543.20,183.30 L543.40,183.30 L543.60,183.30 L543.80,183.30 L544.00,183.30 L544.20,183.30 L544.40,183.30 L544.60,183.30 L544.80,183.30 L545.00,183.30 L545.20,183.30 L545.40,183.30 L545.60,183.30 L545.80,183.30 L546.00,183.30 L546.20,183.30 L546.40,183.30 L546.60,183.30 L546.80,183.30 L547.00,183.30 L547.20,183.30 L547.40,183.30 L547.60,183.30 L547.80,183.30 L548.00,183.30 L548.20,183.30 L548.40,183.30 L548.60,183.30 L548.80,183.30 L549.00,183.30 L549.20,183.30 L549.40,183.30 L549.60,183.30 L549.80,183.30 L550.00,183.30 L550.20,183.30 L550.40,183.30 L550.60,183.30 L550.80,183.30 L551.00,183.30 L551.20,183.30 L551.40,183.30 L551.60,183.30 L551.80,183.30 L552.00,183.30 L552.20,183.30 L552.40,183.30 L552.60,183.30 L552.80,183.30 L553.00,183.30 L553.20,183.30 L553.40,183.30 L553.60,183.30 L553.80,183.30 L554.00,183.30 L554.20,183.30 L554.40,183.30 L554.60,183.30 L554.80,183.30 L555.00,183.30 L555.20,183.30 L555.40,183.30 L555.60,183.30 L555.80,183.30 L556.00,183.30 L556.20,183.30 L556.40,183.30 L556.60,183.30 L556.80,183.30 L557.00,183.30 L557.20,183.30 L557.40,183.30 L557.60,183.30 L557.80,183.30 L558.00,183.30 L558.20,183.30 L558.40,183.30 L558.60,183.30 L558.80,183.30 L559.00,183.30 L559.20,183.30 L559.40,183.30 L559.60,183.30 L559.80,183.30 L560.00,183.30 L560.20,183.30 L560.40,183.30 L560.60,183.30 L560.80,183.30 L561.00,183.30 L561.20,183.30 L561.40,183.30 L561.60,183.30 L561.80,183.30 L562.00,183.30 L562.20,183.30 L562.40,183.30 L562.60,183.30 L562.80,183.30 L563.00,183.30 L563.20,183.30 L563.40,183.30 L563.60,183.30 L563.80,183.30 L564.00,183.30 L564.20,183.30 L564.40,183.30 L564.60,183.30 L564.80,183.30 L565.00,183.30 L565.20,183.30 L565.40,183.30 L565.60,183.30 L565.80,183.30 L566.00,183.30 L566.20,183.30 L566.40,183.30 L566.60,183.30 L566.80,183.30 L567.00,183.30 L567.20,183.30 L567.40,183.30 L567.60,183.30 L567.80,183.30 L568.00,183.30 L568.20,183.30 L568.40,183.30 L568.60,183.30 L568.80,183.30 L569.00,183.30 L569.20,183.30 L569.40,183.30 L569.60,183.30 L569.80,183.30 L570.00,183.30 L570.20,183.30 L570.40,183.30 L570.60,183.30 L570.80,183.30 L571.00,183.30 L571.20,183.30 L571.40,183.30 L571.60,183.30 L571.80,183.30 L572.00,183.30 L572.20,183.30 L572.40,183.30 L572.60,183.30 L572.80,183.30 L573.00,183.30 L573.20,183.30 L573.40,183.30 L573.60,183.30 L573.80,183.30 L574.00,183.30 L574.20,183.30 L574.40,183.30 L574.60,183.30 L574.80,183.30 L575.00,183.30 L575.20,183.30 L575.40,183.30 L575.60,183.30 L575.80,183.30 L576.00,183.30 L576.20,183.30 L576.40,183.30 L576.60,183.30 L576.80,183.30 L577.00,183.30 L577.20,183.30 L577.40,183.30 L577.60,183.30 L577.80,183.30 L578.00,183.30 L578.20,183.30 L578.40,183.30 L578.60,183.30 L578.80,183.30 L579.00,183.30 L579.20,183.30 L579.40,183.30 L579.60,183.30 L579.80,183.30 L580.00,183.30 L580.20,183.30 L580.40,183.30 L580.60,183.30 L580.80,183.30 L581.00,183.30 L581.20,183.30 L581.40,183.30 L581.60,183.30 L581.80,183.30 L582.00,183.30 L582.20,183.30 L582.40,183.30 L582.60,183.30 L582.80,183.30 L583.00,183.30 L583.20,183.30 L583.40,183.30 L583.60,183.30 L583.80,183.30 L584.00,183.30 L584.20,183.30 L584.40,183.30 L584.60,183.30 L584.80,183.30 L585.00,183.30 L585.20,183.30 L585.40,183.30 L585.60,183.30 L585.80,183.30 L586.00,183.30 L586.20,183.30 L586.40,183.30 L586.60,183.30 L586.80,183.30 L587.00,183.30 L587.20,183.30 L587.40,183.30 L587.60,183.30 L587.80,183.30 L588.00,183.30 L588.20,183.30 L588.40,183.30 L588.60,183.30 L588.80,183.30 L589.00,183.30 L589.20,183.30 L589.40,183.30 L589.60,183.30 L589.80,183.30 L590.00,183.30 L590.20,183.30 L590.40,183.30 L590.60,183.30 L590.80,183.30 L591.00,183.30 L591.20,183.30 L591.40,183.30 L591.60,183.30 L591.80,183.30 L592.00,183.30 L592.20,183.30 L592.40,183.30 L592.60,183.30 L592.80,183.30 L593.00,183.30 L593.20,183.30 L593.40,183.30 L593.60,183.30 L593.80,183.30 L594.00,183.30 L594.20,183.30 L594.40,183.30 L594.60,183.30 L594.80,183.30 L595.00,183.30 L595.20,183.30 L595.40,183.30 L595.60,183.30 L595.80,183.30 L596.00,183.30 L596.20,183.30 L596.40,183.30 L596.60,183.30 L596.80,183.30 L597.00,183.30" fill="none" stroke="#222" stroke-width="1.0" stroke-linejoin="round"/>
<g transform="translate(333.65,193.70)"><text x="-22.72" y="2.51" font-family='"Liberation Sans", sans-serif' font-weight="normal" font-size="9.7" fill="#1a1a1a" stroke="#1a1a1a" stroke-width="0.25">Time (sec)</text></g>
<g transform="translate(371.40,12.30)"><text x="-10.66" y="3.85" font-family='"Liberation Serif", serif' font-weight="bold" font-size="16" fill="#1a1a1a" stroke="#1a1a1a" stroke-width="0.4">(B)</text></g>
<g transform="translate(561.90,9.75)"><text x="-23.84" y="3.93" font-family='"Liberation Sans", sans-serif' font-weight="bold" font-size="11" fill="#1a1a1a">ShTPS 2</text><path transform="translate(11.61,3.93) scale(0.005371,-0.005371)" d="M478,0 L478,1170 L140,959 L140,1180 L493,1409 L759,1409 L759,0 Z" fill="#1a1a1a"/></g>
<g transform="translate(400.80,88.35)"><text x="-2.70" y="3.34" font-family='"Liberation Sans", sans-serif' font-weight="normal" font-size="9.7" fill="#1a1a1a" stroke="#1a1a1a" stroke-width="0.25"> </text><path transform="translate(-2.70,3.34) scale(0.004736,-0.004736)" d="M515,0 L515,1237 L197,1010 L197,1180 L530,1409 L696,1409 L696,0 Z" fill="#1a1a1a" stroke="#1a1a1a" stroke-width="52.8"/></g>
<g transform="translate(429.55,15.45)"><text x="-2.70" y="3.39" font-family='"Liberation Sans", sans-serif' font-weight="normal" font-size="9.7" fill="#1a1a1a" stroke="#1a1a1a" stroke-width="0.25">2</text></g>
<line x1="44.00" y1="228.40" x2="44.00" y2="413.20" stroke="#9a9a9a" stroke-width="1.8"/>
<line x1="41.80" y1="410.60" x2="278.50" y2="410.60" stroke="#707070" stroke-width="1.0"/>
<line x1="44.00" y1="410.60" x2="44.00" y2="413.20" stroke="#555" stroke-width="1"/>
<line x1="90.20" y1="410.60" x2="90.20" y2="413.20" stroke="#555" stroke-width="1"/>
<g transform="translate(90.20,419.40)"><text x="-8.09" y="3.34" font-family='"Liberation Sans", sans-serif' font-weight="normal" font-size="9.7" fill="#1a1a1a" stroke="#1a1a1a" stroke-width="0.25">400</text></g>
<line x1="136.60" y1="410.60" x2="136.60" y2="413.20" stroke="#555" stroke-width="1"/>
<g transform="translate(136.60,419.40)"><text x="-8.09" y="3.34" font-family='"Liberation Sans", sans-serif' font-weight="normal" font-size="9.7" fill="#1a1a1a" stroke="#1a1a1a" stroke-width="0.25">420</text></g>
<line x1="183.00" y1="410.60" x2="183.00" y2="413.20" stroke="#555" stroke-width="1"/>
<g transform="translate(183.00,419.40)"><text x="-8.09" y="3.34" font-family='"Liberation Sans", sans-serif' font-weight="normal" font-size="9.7" fill="#1a1a1a" stroke="#1a1a1a" stroke-width="0.25">440</text></g>
<line x1="229.40" y1="410.60" x2="229.40" y2="413.20" stroke="#555" stroke-width="1"/>
<g transform="translate(229.40,419.40)"><text x="-8.09" y="3.34" font-family='"Liberation Sans", sans-serif' font-weight="normal" font-size="9.7" fill="#1a1a1a" stroke="#1a1a1a" stroke-width="0.25">460</text></g>
<line x1="275.80" y1="410.60" x2="275.80" y2="413.20" stroke="#555" stroke-width="1"/>
<g transform="translate(275.80,419.40)"><text x="-8.09" y="3.34" font-family='"Liberation Sans", sans-serif' font-weight="normal" font-size="9.7" fill="#1a1a1a" stroke="#1a1a1a" stroke-width="0.25">480</text></g>
<line x1="41.40" y1="389.48" x2="44.00" y2="389.48" stroke="#555" stroke-width="1.2"/>
<g transform="translate(24.41,388.98)"><text x="-13.49" y="3.34" font-family='"Liberation Sans", sans-serif' font-weight="normal" font-size="9.7" fill="#1a1a1a" stroke="#1a1a1a" stroke-width="0.25">50000</text></g>
<line x1="41.40" y1="368.76" x2="44.00" y2="368.76" stroke="#555" stroke-width="1.2"/>
<g transform="translate(21.72,368.26)"><text x="-16.18" y="3.34" font-family='"Liberation Sans", sans-serif' font-weight="normal" font-size="9.7" fill="#1a1a1a" stroke="#1a1a1a" stroke-width="0.25"> 00000</text><path transform="translate(-16.18,3.34) scale(0.004736,-0.004736)" d="M515,0 L515,1237 L197,1010 L197,1180 L530,1409 L696,1409 L696,0 Z" fill="#1a1a1a" stroke="#1a1a1a" stroke-width="52.8"/></g>
<line x1="41.40" y1="348.04" x2="44.00" y2="348.04" stroke="#555" stroke-width="1.2"/>
<g transform="translate(21.72,347.54)"><text x="-16.18" y="3.34" font-family='"Liberation Sans", sans-serif' font-weight="normal" font-size="9.7" fill="#1a1a1a" stroke="#1a1a1a" stroke-width="0.25"> 50000</text><path transform="translate(-16.18,3.34) scale(0.004736,-0.004736)" d="M515,0 L515,1237 L197,1010 L197,1180 L530,1409 L696,1409 L696,0 Z" fill="#1a1a1a" stroke="#1a1a1a" stroke-width="52.8"/></g>
<line x1="41.40" y1="327.32" x2="44.00" y2="327.32" stroke="#555" stroke-width="1.2"/>
<g transform="translate(21.72,326.82)"><text x="-16.18" y="3.34" font-family='"Liberation Sans", sans-serif' font-weight="normal" font-size="9.7" fill="#1a1a1a" stroke="#1a1a1a" stroke-width="0.25">200000</text></g>
<line x1="41.40" y1="306.60" x2="44.00" y2="306.60" stroke="#555" stroke-width="1.2"/>
<g transform="translate(21.72,306.10)"><text x="-16.18" y="3.34" font-family='"Liberation Sans", sans-serif' font-weight="normal" font-size="9.7" fill="#1a1a1a" stroke="#1a1a1a" stroke-width="0.25">250000</text></g>
<line x1="41.40" y1="285.88" x2="44.00" y2="285.88" stroke="#555" stroke-width="1.2"/>
<g transform="translate(21.72,285.38)"><text x="-16.18" y="3.34" font-family='"Liberation Sans", sans-serif' font-weight="normal" font-size="9.7" fill="#1a1a1a" stroke="#1a1a1a" stroke-width="0.25">300000</text></g>
<line x1="41.40" y1="265.16" x2="44.00" y2="265.16" stroke="#555" stroke-width="1.2"/>
<g transform="translate(21.72,264.66)"><text x="-16.18" y="3.34" font-family='"Liberation Sans", sans-serif' font-weight="normal" font-size="9.7" fill="#1a1a1a" stroke="#1a1a1a" stroke-width="0.25">350000</text></g>
<line x1="41.40" y1="244.44" x2="44.00" y2="244.44" stroke="#555" stroke-width="1.2"/>
<g transform="translate(21.72,243.94)"><text x="-16.18" y="3.34" font-family='"Liberation Sans", sans-serif' font-weight="normal" font-size="9.7" fill="#1a1a1a" stroke="#1a1a1a" stroke-width="0.25">400000</text></g>
<path d="M44.00,410.60 L44.20,410.60 L44.40,410.60 L44.60,410.60 L44.80,410.60 L45.00,410.60 L45.20,410.60 L45.40,410.60 L45.60,410.60 L45.80,410.60 L46.00,410.60 L46.20,410.60 L46.40,410.60 L46.60,410.60 L46.80,410.60 L47.00,410.60 L47.20,410.60 L47.40,410.60 L47.60,410.60 L47.80,410.60 L48.00,410.60 L48.20,410.60 L48.40,410.60 L48.60,410.60 L48.80,410.60 L49.00,410.60 L49.20,410.60 L49.40,410.60 L49.60,410.60 L49.80,410.60 L50.00,410.60 L50.20,410.60 L50.40,410.60 L50.60,410.60 L50.80,410.60 L51.00,410.60 L51.20,410.60 L51.40,410.60 L51.60,410.60 L51.80,410.60 L52.00,410.60 L52.20,410.60 L52.40,410.60 L52.60,410.60 L52.80,410.60 L53.00,410.60 L53.20,410.60 L53.40,410.60 L53.60,410.60 L53.80,410.60 L54.00,410.60 L54.20,410.60 L54.40,410.60 L54.60,410.60 L54.80,410.60 L55.00,410.60 L55.20,410.60 L55.40,410.60 L55.60,410.60 L55.80,410.60 L56.00,410.60 L56.20,410.60 L56.40,410.60 L56.60,410.60 L56.80,410.60 L57.00,410.60 L57.20,410.60 L57.40,410.60 L57.60,410.60 L57.80,410.60 L58.00,410.60 L58.20,410.60 L58.40,410.60 L58.60,410.60 L58.80,410.60 L59.00,410.60 L59.20,410.60 L59.40,410.60 L59.60,410.60 L59.80,410.60 L60.00,410.60 L60.20,410.60 L60.40,410.60 L60.60,410.60 L60.80,410.60 L61.00,410.60 L61.20,410.60 L61.40,410.60 L61.60,410.60 L61.80,410.60 L62.00,410.60 L62.20,410.60 L62.40,410.60 L62.60,410.60 L62.80,410.60 L63.00,410.60 L63.20,410.60 L63.40,410.60 L63.60,410.60 L63.80,410.60 L64.00,410.60 L64.20,410.60 L64.40,410.60 L64.60,410.60 L64.80,410.60 L65.00,410.60 L65.20,410.60 L65.40,410.60 L65.60,410.60 L65.80,410.60 L66.00,410.60 L66.20,410.60 L66.40,410.60 L66.60,410.60 L66.80,410.60 L67.00,410.60 L67.20,410.60 L67.40,410.60 L67.60,410.60 L67.80,410.60 L68.00,410.60 L68.20,410.60 L68.40,410.60 L68.60,410.60 L68.80,410.60 L69.00,410.60 L69.20,410.60 L69.40,410.60 L69.60,410.60 L69.80,410.60 L70.00,410.60 L70.20,410.60 L70.40,410.60 L70.60,410.60 L70.80,410.60 L71.00,410.60 L71.20,410.60 L71.40,410.60 L71.60,410.60 L71.80,410.60 L72.00,410.60 L72.20,410.60 L72.40,410.60 L72.60,410.60 L72.80,410.60 L73.00,410.60 L73.20,410.60 L73.40,410.60 L73.60,410.60 L73.80,410.60 L74.00,410.60 L74.20,410.60 L74.40,410.60 L74.60,410.60 L74.80,410.60 L75.00,410.60 L75.20,410.60 L75.40,410.60 L75.60,410.60 L75.80,410.60 L76.00,410.60 L76.20,410.60 L76.40,410.60 L76.60,410.60 L76.80,410.59 L77.00,410.59 L77.20,410.57 L77.40,410.53 L77.60,410.46 L77.80,410.32 L78.00,410.10 L78.20,409.75 L78.40,409.24 L78.60,408.55 L78.80,407.72 L79.00,406.78 L79.20,405.84 L79.40,405.04 L79.60,404.49 L79.80,404.30 L80.00,404.49 L80.20,405.04 L80.40,405.84 L80.60,406.78 L80.80,407.72 L81.00,408.55 L81.20,409.24 L81.40,409.75 L81.60,410.10 L81.80,410.32 L82.00,410.46 L82.20,410.53 L82.40,410.57 L82.60,410.59 L82.80,410.59 L83.00,410.60 L83.20,410.60 L83.40,410.60 L83.60,410.60 L83.80,410.60 L84.00,410.60 L84.20,410.60 L84.40,410.60 L84.60,410.60 L84.80,410.60 L85.00,410.60 L85.20,410.60 L85.40,410.60 L85.60,410.60 L85.80,410.60 L86.00,410.60 L86.20,410.60 L86.40,410.60 L86.60,410.60 L86.80,410.60 L87.00,410.60 L87.20,410.60 L87.40,410.60 L87.60,410.60 L87.80,410.60 L88.00,410.60 L88.20,410.60 L88.40,410.60 L88.60,410.60 L88.80,410.60 L89.00,410.60 L89.20,410.60 L89.40,410.60 L89.60,410.60 L89.80,410.60 L90.00,410.60 L90.20,410.60 L90.40,410.60 L90.60,410.60 L90.80,410.60 L91.00,410.60 L91.20,410.60 L91.40,410.60 L91.60,410.60 L91.80,410.60 L92.00,410.60 L92.20,410.60 L92.40,410.60 L92.60,410.60 L92.80,410.60 L93.00,410.60 L93.20,410.60 L93.40,410.60 L93.60,410.60 L93.80,410.60 L94.00,410.60 L94.20,410.60 L94.40,410.60 L94.60,410.60 L94.80,410.59 L95.00,410.59 L95.20,410.58 L95.40,410.56 L95.60,410.54 L95.80,410.50 L96.00,410.45 L96.20,410.39 L96.40,410.31 L96.60,410.21 L96.80,410.11 L97.00,410.00 L97.20,409.90 L97.40,409.81 L97.60,409.74 L97.80,409.70 L97.90,409.70 L98.00,409.70 L98.20,409.74 L98.40,409.81 L98.60,409.90 L98.80,410.00 L99.00,410.11 L99.20,410.21 L99.40,410.31 L99.60,410.39 L99.80,410.45 L100.00,410.50 L100.20,410.54 L100.40,410.56 L100.60,410.58 L100.80,410.59 L101.00,410.59 L101.20,410.60 L101.40,410.60 L101.60,410.60 L101.80,410.60 L102.00,410.60 L102.20,410.60 L102.40,410.60 L102.60,410.60 L102.80,410.59 L103.00,410.58 L103.20,410.57 L103.40,410.56 L103.60,410.53 L103.80,410.49 L104.00,410.44 L104.20,410.38 L104.40,410.30 L104.60,410.21 L104.80,410.11 L105.00,410.02 L105.20,409.93 L105.40,409.86 L105.60,409.82 L105.80,409.80 L106.00,409.82 L106.20,409.86 L106.40,409.93 L106.60,410.02 L106.80,410.11 L107.00,410.21 L107.20,410.30 L107.40,410.38 L107.60,410.44 L107.80,410.49 L108.00,410.53 L108.20,410.56 L108.40,410.57 L108.60,410.58 L108.80,410.59 L109.00,410.60 L109.20,410.60 L109.40,410.60 L109.60,410.60 L109.80,410.60 L110.00,410.60 L110.20,410.60 L110.40,410.60 L110.60,410.60 L110.80,410.60 L111.00,410.60 L111.20,410.60 L111.40,410.60 L111.60,410.60 L111.80,410.60 L112.00,410.60 L112.20,410.60 L112.40,410.60 L112.60,410.60 L112.80,410.60 L113.00,410.60 L113.20,410.60 L113.40,410.60 L113.60,410.60 L113.80,410.60 L114.00,410.60 L114.20,410.60 L114.40,410.60 L114.60,410.60 L114.80,410.45 L115.00,409.91 L115.20,408.93 L115.40,407.45 L115.60,405.45 L115.80,402.91 L116.00,399.81 L116.20,396.13 L116.40,391.85 L116.60,386.95 L116.80,381.44 L117.00,375.28 L117.20,368.48 L117.40,361.03 L117.60,352.90 L117.80,357.86 L118.00,362.57 L118.20,367.05 L118.40,371.28 L118.60,375.28 L118.80,379.05 L119.00,382.59 L119.20,385.90 L119.40,388.98 L119.60,391.85 L119.80,394.49 L120.00,396.91 L120.20,399.12 L120.40,401.12 L120.60,402.91 L120.80,404.50 L121.00,405.90 L121.20,407.09 L121.40,408.10 L121.60,408.93 L121.80,409.58 L122.00,410.06 L122.20,410.38 L122.40,410.55 L122.60,410.60 L122.80,410.60 L123.00,410.60 L123.20,410.60 L123.40,410.60 L123.60,410.60 L123.80,410.60 L124.00,410.60 L124.20,410.60 L124.40,410.60 L124.60,410.60 L124.80,410.60 L125.00,410.60 L125.20,410.60 L125.40,410.60 L125.60,410.60 L125.80,410.60 L126.00,410.60 L126.20,410.60 L126.40,410.60 L126.60,410.60 L126.80,410.60 L127.00,410.60 L127.20,410.60 L127.40,410.60 L127.60,410.60 L127.80,410.60 L128.00,410.60 L128.20,410.60 L128.40,410.60 L128.60,410.60 L128.80,410.60 L129.00,410.60 L129.20,410.60 L129.40,410.13 L129.60,407.85 L129.80,404.37 L130.00,399.93 L130.20,394.65 L130.40,388.62 L130.60,381.88 L130.80,374.49 L131.00,366.48 L131.20,357.89 L131.40,348.74 L131.60,339.04 L131.70,334.00 L131.80,336.77 L132.00,342.18 L132.20,347.44 L132.40,352.55 L132.60,357.49 L132.80,362.26 L133.00,366.86 L133.20,371.29 L133.40,375.53 L133.60,379.60 L133.80,383.47 L134.00,387.14 L134.20,390.61 L134.40,393.87 L134.60,396.91 L134.80,399.71 L135.00,402.26 L135.20,404.55 L135.40,406.56 L135.60,408.24 L135.80,409.56 L136.00,410.42 L136.20,410.60 L136.40,409.24 L136.60,407.25 L136.80,404.92 L137.00,402.35 L137.20,399.57 L137.40,396.62 L137.60,393.52 L137.80,390.28 L138.00,386.92 L138.20,383.45 L138.40,379.86 L138.60,376.18 L138.80,372.41 L139.00,368.55 L139.20,364.60 L139.40,369.33 L139.60,373.93 L139.80,378.40 L140.00,382.74 L140.20,386.92 L140.40,390.94 L140.60,394.78 L140.80,398.41 L141.00,401.81 L141.20,396.07 L141.40,388.71 L141.60,380.26 L141.80,369.93 L142.00,358.62 L142.20,347.08 L142.40,335.34 L142.60,323.43 L142.80,311.37 L143.00,299.18 L143.20,286.86 L143.40,274.43 L143.60,261.90 L143.80,276.06 L144.00,290.09 L144.20,303.96 L144.40,317.68 L144.60,331.21 L144.80,344.54 L145.00,357.62 L145.20,370.42 L145.40,382.85 L145.60,394.78 L145.80,405.87 L146.00,407.67 L146.20,403.87 L146.40,399.66 L146.60,395.14 L146.80,390.40 L147.00,385.46 L147.20,380.35 L147.40,375.09 L147.60,369.70 L147.80,373.31 L148.00,376.86 L148.20,380.35 L148.40,383.77 L148.60,387.12 L148.80,390.40 L149.00,393.59 L149.20,396.68 L149.40,399.66 L149.60,402.51 L149.80,405.19 L150.00,407.67 L150.20,409.82 L150.40,410.60 L150.60,410.60 L150.80,410.60 L151.00,410.59 L151.20,410.57 L151.40,410.53 L151.60,410.44 L151.80,410.28 L152.00,410.00 L152.20,409.59 L152.40,409.01 L152.60,408.31 L152.80,407.55 L153.00,406.86 L153.20,406.38 L153.40,406.20 L153.60,406.38 L153.80,406.86 L154.00,407.55 L154.20,408.31 L154.40,409.01 L154.60,409.59 L154.80,410.00 L155.00,410.28 L155.20,410.44 L155.40,403.13 L155.60,395.79 L155.80,388.41 L156.00,381.03 L156.20,373.64 L156.40,366.25 L156.60,358.86 L156.80,351.47 L157.00,344.08 L157.20,336.69 L157.40,326.20 L157.50,319.40 L157.60,320.55 L157.80,322.85 L158.00,325.15 L158.20,327.45 L158.40,329.75 L158.60,332.05 L158.80,334.35 L159.00,336.65 L159.20,338.95 L159.30,340.10 L159.40,347.46 L159.60,357.94 L159.80,364.17 L160.00,370.40 L160.20,376.62 L160.40,382.85 L160.60,389.08 L160.80,395.31 L161.00,403.10 L161.20,403.60 L161.40,404.10 L161.60,404.60 L161.80,405.10 L162.00,405.60 L162.20,406.10 L162.40,406.60 L162.60,407.10 L162.80,407.60 L163.00,408.10 L163.20,408.60 L163.40,409.10 L163.60,409.60 L163.80,410.10 L164.00,410.60 L164.20,410.60 L164.40,410.60 L164.60,410.60 L164.80,410.60 L165.00,410.60 L165.20,410.60 L165.40,410.60 L165.60,410.60 L165.80,410.60 L166.00,410.60 L166.20,410.60 L166.40,410.60 L166.60,410.60 L166.80,410.60 L167.00,410.60 L167.20,410.60 L167.40,410.60 L167.60,410.60 L167.80,410.60 L168.00,410.60 L168.20,410.60 L168.40,410.60 L168.60,410.60 L168.80,410.60 L169.00,410.60 L169.20,410.60 L169.40,410.60 L169.60,410.59 L169.80,410.58 L170.00,410.56 L170.20,410.53 L170.40,410.47 L170.60,410.37 L170.80,410.21 L171.00,409.97 L171.20,409.62 L171.40,409.14 L171.60,408.50 L171.80,407.71 L172.00,406.78 L172.20,405.74 L172.40,404.66 L172.60,403.63 L172.80,402.75 L173.00,402.09 L173.20,401.74 L173.30,401.70 L173.40,401.74 L173.60,402.09 L173.80,402.75 L174.00,403.63 L174.20,404.66 L174.40,405.74 L174.60,406.78 L174.80,407.71 L175.00,408.50 L175.20,409.14 L175.40,409.62 L175.60,409.97 L175.80,410.21 L176.00,410.37 L176.20,410.47 L176.40,410.52 L176.60,410.56 L176.80,410.57 L177.00,410.58 L177.20,410.58 L177.40,410.57 L177.60,410.56 L177.80,410.55 L178.00,410.52 L178.20,410.49 L178.40,410.46 L178.60,410.40 L178.80,410.34 L179.00,410.26 L179.20,410.16 L179.40,410.05 L179.60,409.92 L179.80,409.77 L180.00,409.61 L180.20,409.44 L180.40,409.27 L180.60,409.09 L180.80,408.92 L181.00,408.76 L181.20,408.63 L181.40,408.52 L181.60,408.44 L181.80,408.40 L181.90,408.40 L182.00,408.40 L182.20,408.44 L182.40,408.52 L182.60,408.63 L182.80,408.76 L183.00,408.92 L183.20,409.09 L183.40,409.27 L183.60,409.44 L183.80,409.61 L184.00,409.77 L184.20,409.92 L184.40,410.05 L184.60,410.16 L184.80,410.26 L185.00,410.34 L185.20,410.40 L185.40,410.46 L185.60,410.49 L185.80,410.53 L186.00,410.55 L186.20,410.56 L186.40,410.58 L186.60,410.58 L186.80,410.59 L187.00,410.59 L187.20,410.60 L187.40,410.60 L187.60,410.60 L187.80,410.60 L188.00,410.60 L188.20,410.60 L188.40,410.60 L188.60,410.60 L188.80,410.60 L189.00,410.60 L189.20,410.60 L189.40,410.60 L189.60,410.60 L189.80,410.60 L190.00,410.60 L190.20,410.60 L190.40,410.60 L190.60,410.60 L190.80,410.60 L191.00,410.60 L191.20,410.60 L191.40,410.60 L191.60,410.60 L191.80,410.60 L192.00,410.60 L192.20,410.60 L192.40,410.60 L192.60,410.60 L192.80,410.60 L193.00,410.59 L193.20,410.59 L193.40,410.59 L193.60,410.58 L193.80,410.57 L194.00,410.56 L194.20,410.55 L194.40,410.53 L194.60,410.51 L194.80,410.48 L195.00,410.44 L195.20,410.40 L195.40,410.35 L195.60,410.30 L195.80,410.24 L196.00,410.18 L196.20,410.11 L196.40,410.05 L196.60,409.99 L196.80,409.93 L197.00,409.88 L197.20,409.84 L197.40,409.82 L197.60,409.80 L197.70,409.80 L197.80,409.80 L198.00,409.82 L198.20,409.84 L198.40,409.88 L198.60,409.93 L198.80,409.99 L199.00,410.05 L199.20,410.11 L199.40,410.18 L199.60,410.24 L199.80,410.30 L200.00,410.35 L200.20,410.40 L200.40,410.44 L200.60,410.48 L200.80,410.51 L201.00,410.53 L201.20,410.55 L201.40,410.56 L201.60,410.57 L201.80,410.58 L202.00,410.59 L202.20,410.59 L202.40,410.59 L202.60,410.60 L202.80,410.60 L203.00,410.60 L203.20,410.60 L203.40,410.60 L203.60,410.60 L203.80,410.60 L204.00,410.60 L204.20,410.60 L204.40,410.60 L204.60,410.60 L204.80,410.60 L205.00,410.60 L205.20,410.60 L205.40,410.60 L205.60,410.60 L205.80,410.60 L206.00,410.60 L206.20,410.60 L206.40,410.60 L206.60,410.60 L206.80,410.60 L207.00,410.60 L207.20,410.60 L207.40,410.60 L207.60,410.60 L207.80,410.60 L208.00,410.60 L208.20,410.60 L208.40,410.60 L208.60,410.60 L208.80,410.60 L209.00,410.60 L209.20,410.60 L209.40,410.59 L209.60,410.59 L209.80,410.58 L210.00,410.57 L210.20,410.55 L210.40,410.52 L210.60,410.48 L210.80,410.43 L211.00,410.36 L211.20,410.26 L211.40,410.15 L211.60,410.02 L211.80,409.86 L212.00,409.69 L212.20,409.51 L212.40,409.33 L212.60,409.16 L212.80,409.01 L213.00,408.90 L213.20,408.82 L213.40,408.80 L213.60,408.82 L213.80,408.90 L214.00,409.01 L214.20,409.16 L214.40,409.33 L214.60,409.51 L214.80,409.69 L215.00,409.86 L215.20,410.02 L215.40,410.15 L215.60,410.26 L215.80,410.36 L216.00,410.43 L216.20,410.48 L216.40,410.52 L216.60,410.55 L216.80,410.57 L217.00,410.58 L217.20,410.59 L217.40,410.59 L217.60,410.60 L217.80,410.60 L218.00,410.60 L218.20,410.60 L218.40,410.60 L218.60,410.60 L218.80,410.60 L219.00,410.60 L219.20,410.60 L219.40,410.60 L219.60,410.60 L219.80,410.60 L220.00,410.60 L220.20,410.60 L220.40,410.60 L220.60,410.60 L220.80,410.60 L221.00,410.60 L221.20,410.60 L221.40,410.60 L221.60,410.60 L221.80,410.60 L222.00,410.60 L222.20,410.60 L222.40,410.60 L222.60,410.60 L222.80,410.60 L223.00,410.60 L223.20,410.60 L223.40,410.60 L223.60,410.26 L223.80,409.18 L224.00,407.84 L224.20,406.33 L224.40,404.68 L224.60,402.92 L224.80,401.05 L225.00,399.10 L225.20,397.07 L225.40,394.96 L225.60,392.77 L225.80,390.52 L226.00,388.20 L226.10,387.02 L226.20,388.01 L226.40,389.94 L226.60,391.81 L226.80,393.58 L227.00,395.27 L227.20,396.83 L227.40,398.27 L227.60,399.56 L227.80,400.69 L228.00,401.65 L228.20,402.42 L228.40,403.02 L228.60,403.43 L228.80,403.66 L229.00,403.68 L229.20,403.12 L229.40,402.38 L229.60,401.78 L229.80,401.35 L230.00,401.13 L230.10,401.10 L230.20,401.13 L230.40,401.35 L230.60,401.78 L230.80,402.38 L231.00,403.12 L231.20,403.96 L231.40,404.84 L231.60,405.72 L231.80,406.56 L232.00,407.34 L232.20,408.02 L232.40,408.61 L232.60,409.10 L232.80,409.50 L233.00,409.81 L233.20,410.05 L233.40,410.22 L233.60,410.35 L233.80,410.43 L234.00,410.49 L234.20,410.53 L234.40,410.56 L234.60,410.58 L234.80,410.59 L235.00,410.59 L235.20,410.60 L235.40,410.60 L235.60,410.60 L235.80,410.60 L236.00,410.60 L236.20,410.60 L236.40,410.60 L236.60,410.60 L236.80,410.60 L237.00,410.60 L237.20,410.60 L237.40,410.60 L237.60,410.60 L237.80,410.60 L238.00,410.60 L238.20,410.60 L238.40,410.60 L238.60,410.60 L238.80,410.60 L239.00,410.60 L239.20,410.60 L239.40,410.60 L239.60,410.60 L239.80,410.60 L240.00,410.60 L240.20,410.60 L240.40,410.60 L240.60,410.60 L240.80,410.60 L241.00,410.60 L241.20,410.60 L241.40,410.60 L241.60,410.60 L241.80,410.60 L242.00,410.60 L242.20,410.60 L242.40,410.60 L242.60,410.60 L242.80,410.60 L243.00,410.60 L243.20,410.60 L243.40,410.60 L243.60,410.60 L243.80,410.60 L244.00,410.60 L244.20,410.60 L244.40,410.60 L244.60,410.60 L244.80,410.60 L245.00,410.60 L245.20,410.60 L245.40,410.60 L245.60,410.60 L245.80,410.60 L246.00,410.60 L246.20,410.60 L246.40,410.60 L246.60,410.60 L246.80,410.60 L247.00,410.60 L247.20,410.60 L247.40,410.60 L247.60,410.60 L247.80,410.60 L248.00,410.60 L248.20,410.60 L248.40,410.60 L248.60,410.60 L248.80,410.60 L249.00,410.60 L249.20,410.60 L249.40,410.60 L249.60,410.60 L249.80,410.60 L250.00,410.60 L250.20,410.60 L250.40,410.60 L250.60,410.60 L250.80,410.60 L251.00,410.60 L251.20,410.60 L251.40,410.60 L251.60,410.60 L251.80,410.60 L252.00,410.60 L252.20,410.60 L252.40,410.60 L252.60,410.60 L252.80,410.60 L253.00,410.60 L253.20,410.60 L253.40,410.60 L253.60,410.60 L253.80,410.60 L254.00,410.60 L254.20,410.60 L254.40,410.60 L254.60,410.60 L254.80,410.60 L255.00,410.60 L255.20,410.60 L255.40,410.60 L255.60,410.60 L255.80,410.60 L256.00,410.60 L256.20,410.60 L256.40,410.60 L256.60,410.60 L256.80,410.60 L257.00,410.60 L257.20,410.60 L257.40,410.60 L257.60,410.60 L257.80,410.60 L258.00,410.60 L258.20,410.60 L258.40,410.60 L258.60,410.60 L258.80,410.60 L259.00,410.60 L259.20,410.60 L259.40,410.60 L259.60,410.60 L259.80,410.60 L260.00,410.60 L260.20,410.60 L260.40,410.60 L260.60,410.60 L260.80,410.60 L261.00,410.60 L261.20,410.60 L261.40,410.60 L261.60,410.59 L261.80,410.59 L262.00,410.59 L262.20,410.59 L262.40,410.58 L262.60,410.58 L262.80,410.57 L263.00,410.57 L263.20,410.56 L263.40,410.55 L263.60,410.54 L263.80,410.52 L264.00,410.50 L264.20,410.48 L264.40,410.46 L264.60,410.44 L264.80,410.40 L265.00,410.37 L265.20,410.33 L265.40,410.29 L265.60,410.24 L265.80,410.19 L266.00,410.13 L266.20,410.06 L266.40,410.00 L266.60,409.93 L266.80,409.85 L267.00,409.77 L267.20,409.69 L267.40,409.61 L267.60,409.53 L267.80,409.45 L268.00,409.37 L268.20,409.29 L268.40,409.21 L268.60,409.15 L268.80,409.08 L269.00,409.03 L269.20,408.98 L269.40,408.95 L269.60,408.92 L269.80,408.91 L270.00,408.90 L270.20,408.91 L270.40,408.92 L270.60,408.95 L270.80,408.98 L271.00,409.03 L271.20,409.08 L271.40,409.15 L271.60,409.21 L271.80,409.29 L272.00,409.37 L272.20,409.45 L272.40,409.53 L272.60,409.61 L272.80,409.69 L273.00,409.77 L273.20,409.85 L273.40,409.93 L273.60,410.00 L273.80,410.06 L274.00,410.13 L274.20,410.19 L274.40,410.24 L274.60,410.29 L274.80,410.33 L275.00,410.37 L275.20,410.40 L275.40,410.44" fill="none" stroke="#222" stroke-width="1.0" stroke-linejoin="round"/>
<g transform="translate(23.65,420.70)"><text x="-22.72" y="2.51" font-family='"Liberation Sans", sans-serif' font-weight="normal" font-size="9.7" fill="#1a1a1a" stroke="#1a1a1a" stroke-width="0.25">Time (sec)</text></g>
<g transform="translate(60.20,233.15)"><text x="-11.10" y="3.85" font-family='"Liberation Serif", serif' font-weight="bold" font-size="16" fill="#1a1a1a" stroke="#1a1a1a" stroke-width="0.4">(C)</text></g>
<g transform="translate(255.05,242.30)"><text x="-22.01" y="3.93" font-family='"Liberation Sans", sans-serif' font-weight="bold" font-size="11" fill="#1a1a1a">SlTPS 7</text><path transform="translate(9.78,3.93) scale(0.005371,-0.005371)" d="M478,0 L478,1170 L140,959 L140,1180 L493,1409 L759,1409 L759,0 Z" fill="#1a1a1a"/></g>
<g transform="translate(139.20,266.40)"><text x="-2.70" y="3.29" font-family='"Liberation Sans", sans-serif' font-weight="normal" font-size="9.7" fill="#1a1a1a" stroke="#1a1a1a" stroke-width="0.25">5</text></g>
<g transform="translate(127.30,337.60)"><text x="-2.70" y="3.34" font-family='"Liberation Sans", sans-serif' font-weight="normal" font-size="9.7" fill="#1a1a1a" stroke="#1a1a1a" stroke-width="0.25">4</text></g>
<g transform="translate(112.90,356.95)"><text x="-2.70" y="3.34" font-family='"Liberation Sans", sans-serif' font-weight="normal" font-size="9.7" fill="#1a1a1a" stroke="#1a1a1a" stroke-width="0.25">3</text></g>
<g transform="translate(148.50,363.95)"><text x="-2.70" y="3.34" font-family='"Liberation Sans", sans-serif' font-weight="normal" font-size="9.7" fill="#1a1a1a" stroke="#1a1a1a" stroke-width="0.25">6</text></g>
<circle cx="138.95" cy="357.90" r="1.25" fill="#1a1a1a"/>
<circle cx="157.70" cy="315.10" r="1.25" fill="#1a1a1a"/>
<line x1="354.40" y1="221.00" x2="354.40" y2="413.40" stroke="#777" stroke-width="1.3"/>
<line x1="351.60" y1="410.80" x2="603.20" y2="410.80" stroke="#707070" stroke-width="1.0"/>
<line x1="354.40" y1="410.80" x2="354.40" y2="413.40" stroke="#555" stroke-width="1"/>
<line x1="371.34" y1="410.80" x2="371.34" y2="413.40" stroke="#555" stroke-width="1"/>
<g transform="translate(371.34,419.40)"><text x="-8.09" y="3.34" font-family='"Liberation Sans", sans-serif' font-weight="normal" font-size="9.7" fill="#1a1a1a" stroke="#1a1a1a" stroke-width="0.25">360</text></g>
<line x1="404.02" y1="410.80" x2="404.02" y2="413.40" stroke="#555" stroke-width="1"/>
<g transform="translate(404.02,419.40)"><text x="-8.09" y="3.34" font-family='"Liberation Sans", sans-serif' font-weight="normal" font-size="9.7" fill="#1a1a1a" stroke="#1a1a1a" stroke-width="0.25">380</text></g>
<line x1="436.70" y1="410.80" x2="436.70" y2="413.40" stroke="#555" stroke-width="1"/>
<g transform="translate(436.70,419.40)"><text x="-8.09" y="3.34" font-family='"Liberation Sans", sans-serif' font-weight="normal" font-size="9.7" fill="#1a1a1a" stroke="#1a1a1a" stroke-width="0.25">400</text></g>
<line x1="469.38" y1="410.80" x2="469.38" y2="413.40" stroke="#555" stroke-width="1"/>
<g transform="translate(469.38,419.40)"><text x="-8.09" y="3.34" font-family='"Liberation Sans", sans-serif' font-weight="normal" font-size="9.7" fill="#1a1a1a" stroke="#1a1a1a" stroke-width="0.25">420</text></g>
<line x1="502.06" y1="410.80" x2="502.06" y2="413.40" stroke="#555" stroke-width="1"/>
<g transform="translate(502.06,419.40)"><text x="-8.09" y="3.34" font-family='"Liberation Sans", sans-serif' font-weight="normal" font-size="9.7" fill="#1a1a1a" stroke="#1a1a1a" stroke-width="0.25">440</text></g>
<line x1="534.74" y1="410.80" x2="534.74" y2="413.40" stroke="#555" stroke-width="1"/>
<g transform="translate(534.74,419.40)"><text x="-8.09" y="3.34" font-family='"Liberation Sans", sans-serif' font-weight="normal" font-size="9.7" fill="#1a1a1a" stroke="#1a1a1a" stroke-width="0.25">460</text></g>
<line x1="567.42" y1="410.80" x2="567.42" y2="413.40" stroke="#555" stroke-width="1"/>
<g transform="translate(567.42,419.40)"><text x="-8.09" y="3.34" font-family='"Liberation Sans", sans-serif' font-weight="normal" font-size="9.7" fill="#1a1a1a" stroke="#1a1a1a" stroke-width="0.25">480</text></g>
<line x1="600.10" y1="410.80" x2="600.10" y2="413.40" stroke="#555" stroke-width="1"/>
<g transform="translate(600.10,419.40)"><text x="-8.09" y="3.34" font-family='"Liberation Sans", sans-serif' font-weight="normal" font-size="9.7" fill="#1a1a1a" stroke="#1a1a1a" stroke-width="0.25">500</text></g>
<line x1="351.80" y1="388.09" x2="354.40" y2="388.09" stroke="#555" stroke-width="1.2"/>
<g transform="translate(337.21,387.59)"><text x="-10.79" y="3.34" font-family='"Liberation Sans", sans-serif' font-weight="normal" font-size="9.7" fill="#1a1a1a" stroke="#1a1a1a" stroke-width="0.25"> 000</text><path transform="translate(-10.79,3.34) scale(0.004736,-0.004736)" d="M515,0 L515,1237 L197,1010 L197,1180 L530,1409 L696,1409 L696,0 Z" fill="#1a1a1a" stroke="#1a1a1a" stroke-width="52.8"/></g>
<line x1="351.80" y1="365.38" x2="354.40" y2="365.38" stroke="#555" stroke-width="1.2"/>
<g transform="translate(337.21,364.88)"><text x="-10.79" y="3.34" font-family='"Liberation Sans", sans-serif' font-weight="normal" font-size="9.7" fill="#1a1a1a" stroke="#1a1a1a" stroke-width="0.25">2000</text></g>
<line x1="351.80" y1="342.67" x2="354.40" y2="342.67" stroke="#555" stroke-width="1.2"/>
<g transform="translate(337.21,342.17)"><text x="-10.79" y="3.34" font-family='"Liberation Sans", sans-serif' font-weight="normal" font-size="9.7" fill="#1a1a1a" stroke="#1a1a1a" stroke-width="0.25">3000</text></g>
<line x1="351.80" y1="319.96" x2="354.40" y2="319.96" stroke="#555" stroke-width="1.2"/>
<g transform="translate(337.21,319.46)"><text x="-10.79" y="3.34" font-family='"Liberation Sans", sans-serif' font-weight="normal" font-size="9.7" fill="#1a1a1a" stroke="#1a1a1a" stroke-width="0.25">4000</text></g>
<line x1="351.80" y1="297.25" x2="354.40" y2="297.25" stroke="#555" stroke-width="1.2"/>
<g transform="translate(337.21,296.75)"><text x="-10.79" y="3.34" font-family='"Liberation Sans", sans-serif' font-weight="normal" font-size="9.7" fill="#1a1a1a" stroke="#1a1a1a" stroke-width="0.25">5000</text></g>
<line x1="351.80" y1="274.54" x2="354.40" y2="274.54" stroke="#555" stroke-width="1.2"/>
<g transform="translate(337.21,274.04)"><text x="-10.79" y="3.34" font-family='"Liberation Sans", sans-serif' font-weight="normal" font-size="9.7" fill="#1a1a1a" stroke="#1a1a1a" stroke-width="0.25">6000</text></g>
<line x1="351.80" y1="251.83" x2="354.40" y2="251.83" stroke="#555" stroke-width="1.2"/>
<g transform="translate(337.21,251.33)"><text x="-10.79" y="3.34" font-family='"Liberation Sans", sans-serif' font-weight="normal" font-size="9.7" fill="#1a1a1a" stroke="#1a1a1a" stroke-width="0.25">7000</text></g>
<line x1="351.80" y1="229.12" x2="354.40" y2="229.12" stroke="#555" stroke-width="1.2"/>
<g transform="translate(337.21,228.62)"><text x="-10.79" y="3.34" font-family='"Liberation Sans", sans-serif' font-weight="normal" font-size="9.7" fill="#1a1a1a" stroke="#1a1a1a" stroke-width="0.25">8000</text></g>
<path d="M354.40,410.80 L354.60,410.80 L354.80,410.80 L355.00,410.80 L355.20,410.80 L355.40,410.80 L355.60,410.80 L355.80,410.80 L356.00,410.80 L356.20,410.80 L356.40,410.80 L356.60,410.80 L356.80,410.80 L357.00,410.80 L357.20,410.80 L357.40,410.80 L357.60,410.80 L357.80,410.80 L358.00,410.80 L358.20,410.80 L358.40,410.80 L358.60,410.80 L358.80,410.80 L359.00,410.80 L359.20,410.80 L359.40,410.80 L359.60,410.80 L359.80,410.80 L360.00,410.80 L360.20,410.80 L360.40,410.80 L360.60,410.80 L360.80,410.80 L361.00,410.80 L361.20,410.80 L361.40,410.80 L361.60,410.80 L361.80,410.80 L362.00,410.80 L362.20,410.79 L362.40,410.79 L362.60,410.78 L362.80,410.77 L363.00,410.75 L363.20,410.73 L363.40,410.71 L363.60,410.67 L363.80,410.63 L364.00,410.57 L364.20,410.51 L364.40,410.45 L364.60,410.38 L364.80,410.31 L365.00,410.24 L365.20,410.18 L365.40,410.14 L365.60,410.11 L365.80,410.10 L366.00,410.11 L366.20,410.14 L366.40,410.18 L366.60,410.24 L366.80,410.31 L367.00,410.38 L367.20,410.45 L367.40,410.51 L367.60,410.57 L367.80,410.63 L368.00,410.67 L368.20,410.71 L368.40,410.73 L368.60,410.75 L368.80,410.77 L369.00,410.78 L369.20,410.79 L369.40,410.79 L369.60,410.80 L369.80,410.80 L370.00,410.80 L370.20,410.80 L370.40,410.80 L370.60,410.80 L370.80,410.80 L371.00,410.80 L371.20,410.80 L371.40,410.80 L371.60,410.80 L371.80,410.80 L372.00,410.80 L372.20,410.80 L372.40,410.80 L372.60,410.80 L372.80,410.80 L373.00,410.80 L373.20,410.80 L373.40,410.80 L373.60,410.80 L373.80,410.80 L374.00,410.80 L374.20,410.80 L374.40,410.80 L374.60,410.80 L374.80,410.80 L375.00,410.80 L375.20,410.80 L375.40,410.80 L375.60,410.80 L375.80,410.80 L376.00,410.80 L376.20,410.80 L376.40,410.80 L376.60,410.80 L376.80,410.80 L377.00,410.80 L377.20,410.80 L377.40,410.80 L377.60,410.80 L377.80,410.80 L378.00,410.80 L378.20,410.80 L378.40,410.80 L378.60,410.80 L378.80,410.80 L379.00,410.80 L379.20,410.80 L379.40,410.80 L379.60,410.80 L379.80,410.80 L380.00,410.80 L380.20,410.80 L380.40,410.80 L380.60,410.80 L380.80,410.80 L381.00,410.80 L381.20,410.80 L381.40,410.80 L381.60,410.80 L381.80,410.80 L382.00,410.80 L382.20,410.80 L382.40,410.80 L382.60,410.80 L382.80,410.80 L383.00,410.80 L383.20,410.79 L383.40,410.79 L383.60,410.78 L383.80,410.77 L384.00,410.76 L384.20,410.74 L384.40,410.72 L384.60,410.69 L384.80,410.65 L385.00,410.61 L385.20,410.55 L385.40,410.50 L385.60,410.44 L385.80,410.38 L386.00,410.32 L386.20,410.27 L386.40,410.23 L386.60,410.21 L386.80,410.20 L387.00,410.21 L387.20,410.23 L387.40,410.27 L387.60,410.32 L387.80,410.38 L388.00,410.44 L388.20,410.50 L388.40,410.55 L388.60,410.61 L388.80,410.65 L389.00,410.69 L389.20,410.72 L389.40,410.74 L389.60,410.76 L389.80,410.77 L390.00,410.78 L390.20,410.79 L390.40,410.79 L390.60,410.80 L390.80,410.80 L391.00,410.80 L391.20,410.80 L391.40,410.80 L391.60,410.80 L391.80,410.80 L392.00,410.80 L392.20,410.80 L392.40,410.80 L392.60,410.80 L392.80,410.80 L393.00,410.80 L393.20,410.80 L393.40,410.80 L393.60,410.80 L393.80,410.80 L394.00,410.80 L394.20,410.80 L394.40,410.80 L394.60,410.80 L394.80,410.80 L395.00,410.80 L395.20,410.80 L395.40,410.80 L395.60,410.80 L395.80,410.80 L396.00,410.80 L396.20,410.80 L396.40,410.80 L396.60,410.80 L396.80,410.80 L397.00,410.80 L397.20,410.80 L397.40,410.80 L397.60,410.80 L397.80,410.80 L398.00,410.80 L398.20,410.80 L398.40,410.80 L398.60,410.80 L398.80,410.80 L399.00,410.80 L399.20,410.80 L399.40,410.80 L399.60,410.80 L399.80,410.80 L400.00,410.80 L400.20,410.80 L400.40,410.80 L400.60,410.80 L400.80,410.80 L401.00,410.80 L401.20,410.80 L401.40,410.80 L401.60,410.80 L401.80,410.80 L402.00,410.80 L402.20,410.80 L402.40,410.80 L402.60,410.80 L402.80,410.80 L403.00,410.80 L403.20,410.80 L403.40,410.80 L403.60,410.80 L403.80,410.80 L404.00,410.80 L404.20,410.80 L404.40,410.80 L404.60,410.80 L404.80,410.80 L405.00,410.80 L405.20,410.80 L405.40,410.79 L405.60,410.79 L405.80,410.79 L406.00,410.78 L406.20,410.77 L406.40,410.75 L406.60,410.73 L406.80,410.70 L407.00,410.67 L407.20,410.63 L407.40,410.58 L407.60,410.53 L407.80,410.47 L408.00,410.41 L408.20,410.35 L408.40,410.29 L408.60,410.25 L408.80,410.22 L409.00,410.20 L409.10,410.20 L409.20,410.20 L409.40,410.22 L409.60,410.25 L409.80,410.29 L410.00,410.35 L410.20,410.41 L410.40,410.47 L410.60,410.53 L410.80,410.58 L411.00,410.63 L411.20,410.67 L411.40,410.70 L411.60,410.73 L411.80,410.75 L412.00,410.77 L412.20,410.78 L412.40,410.79 L412.60,410.79 L412.80,410.79 L413.00,410.80 L413.20,410.80 L413.40,410.80 L413.60,410.80 L413.80,410.80 L414.00,410.80 L414.20,410.80 L414.40,410.80 L414.60,410.80 L414.80,410.80 L415.00,410.80 L415.20,410.80 L415.40,410.80 L415.60,410.80 L415.80,410.80 L416.00,410.80 L416.20,410.80 L416.40,410.80 L416.60,410.80 L416.80,410.80 L417.00,410.80 L417.20,410.80 L417.40,410.80 L417.60,410.80 L417.80,410.80 L418.00,410.80 L418.20,410.80 L418.40,410.80 L418.60,410.80 L418.80,410.80 L419.00,410.80 L419.20,410.80 L419.40,410.80 L419.60,410.80 L419.80,410.80 L420.00,410.80 L420.20,410.80 L420.40,410.80 L420.60,410.80 L420.80,410.80 L421.00,410.80 L421.20,410.80 L421.40,410.80 L421.60,410.80 L421.80,410.80 L422.00,410.80 L422.20,410.80 L422.40,410.80 L422.60,410.80 L422.80,410.80 L423.00,410.80 L423.20,410.80 L423.40,410.80 L423.60,410.80 L423.80,410.80 L424.00,410.80 L424.20,410.80 L424.40,410.80 L424.60,410.80 L424.80,410.80 L425.00,410.80 L425.20,410.80 L425.40,410.80 L425.60,410.80 L425.80,410.80 L426.00,410.80 L426.20,410.80 L426.40,410.80 L426.60,410.80 L426.80,410.80 L427.00,410.80 L427.20,410.80 L427.40,410.80 L427.60,410.80 L427.80,410.80 L428.00,410.80 L428.20,410.79 L428.40,410.75 L428.60,410.56 L428.80,409.97 L429.00,408.55 L429.20,406.04 L429.40,402.95 L429.60,400.72 L429.70,400.40 L429.80,400.67 L430.00,401.55 L430.20,402.80 L430.40,404.23 L430.60,405.63 L430.80,406.86 L431.00,407.83 L431.20,408.54 L431.40,409.03 L431.60,409.36 L431.80,409.59 L432.00,409.76 L432.20,409.88 L432.40,409.98 L432.60,410.07 L432.80,410.15 L433.00,410.22 L433.20,410.28 L433.40,410.33 L433.60,410.38 L433.80,410.43 L434.00,410.47 L434.20,410.50 L434.40,410.53 L434.60,410.56 L434.80,410.59 L435.00,410.61 L435.20,410.63 L435.40,410.65 L435.60,410.66 L435.80,410.68 L436.00,410.69 L436.20,410.70 L436.40,410.71 L436.60,410.72 L436.80,410.73 L437.00,410.74 L437.20,410.74 L437.40,410.75 L437.60,410.75 L437.80,410.76 L438.00,410.76 L438.20,410.77 L438.40,410.77 L438.60,410.77 L438.80,410.78 L439.00,410.78 L439.20,410.78 L439.40,410.78 L439.60,410.79 L439.80,410.79 L440.00,410.79 L440.20,410.79 L440.40,410.79 L440.60,410.79 L440.80,410.78 L441.00,410.75 L441.20,410.68 L441.40,410.53 L441.60,410.24 L441.80,409.79 L442.00,409.20 L442.20,408.57 L442.40,408.08 L442.60,407.90 L442.80,408.08 L443.00,408.57 L443.20,409.20 L443.40,409.79 L443.60,410.24 L443.80,410.53 L444.00,410.69 L444.20,410.76 L444.40,410.79 L444.60,410.80 L444.80,410.80 L445.00,410.80 L445.20,410.80 L445.40,410.80 L445.60,410.80 L445.80,410.80 L446.00,410.80 L446.20,410.80 L446.40,410.80 L446.60,410.80 L446.80,410.80 L447.00,410.80 L447.20,410.80 L447.40,410.80 L447.60,410.80 L447.80,410.80 L448.00,410.80 L448.20,410.80 L448.40,410.80 L448.60,410.80 L448.80,410.80 L449.00,410.80 L449.20,410.80 L449.40,410.80 L449.60,410.80 L449.80,410.80 L450.00,410.80 L450.20,410.80 L450.40,410.80 L450.60,410.80 L450.80,410.80 L451.00,410.80 L451.20,410.80 L451.40,410.80 L451.60,410.80 L451.80,410.80 L452.00,410.80 L452.20,410.80 L452.40,410.80 L452.60,410.80 L452.80,410.80 L453.00,410.80 L453.20,410.79 L453.40,410.77 L453.60,410.73 L453.80,410.62 L454.00,410.42 L454.20,410.05 L454.40,409.50 L454.60,408.77 L454.80,407.97 L455.00,407.27 L455.20,406.85 L455.30,406.79 L455.40,406.84 L455.60,407.24 L455.80,407.92 L456.00,408.67 L456.20,409.30 L456.40,409.69 L456.60,409.79 L456.80,409.60 L457.00,409.10 L457.20,408.30 L457.40,407.17 L457.60,405.71 L457.80,403.93 L458.00,401.89 L458.20,399.70 L458.40,397.51 L458.60,395.51 L458.80,393.91 L459.00,392.86 L459.20,392.50 L459.40,393.09 L459.60,394.10 L459.80,395.47 L460.00,397.11 L460.20,398.90 L460.40,400.72 L460.60,402.47 L460.80,404.07 L461.00,405.47 L461.20,406.65 L461.40,407.60 L461.60,408.34 L461.80,408.91 L462.00,409.32 L462.20,409.63 L462.40,409.85 L462.60,410.01 L462.80,410.13 L463.00,410.22 L463.20,410.28 L463.40,410.34 L463.60,410.39 L463.80,410.43 L464.00,410.47 L464.20,410.50 L464.40,410.53 L464.60,410.55 L464.80,410.58 L465.00,405.37 L465.20,397.75 L465.40,388.84 L465.60,378.97 L465.80,368.33 L466.00,357.01 L466.20,345.12 L466.40,332.70 L466.60,338.45 L466.80,344.10 L467.00,349.64 L467.20,355.07 L467.40,360.37 L467.60,365.55 L467.80,370.60 L468.00,375.50 L468.20,380.25 L468.40,384.84 L468.60,389.24 L468.80,393.45 L469.00,397.43 L469.20,401.15 L469.40,404.56 L469.60,407.58 L469.80,410.01 L470.00,410.78 L470.20,410.79 L470.40,410.79 L470.60,410.79 L470.80,410.79 L471.00,407.12 L471.20,401.76 L471.40,395.49 L471.60,388.55 L471.80,381.06 L472.00,373.11 L472.20,364.74 L472.40,356.02 L472.60,346.95 L472.80,337.58 L473.00,327.92 L473.20,318.00 L473.40,307.82 L473.60,297.41 L473.80,286.77 L474.00,275.92 L474.20,264.86 L474.40,253.60 L474.60,261.72 L474.80,269.75 L475.00,277.67 L475.20,285.48 L475.40,293.18 L475.60,300.77 L475.80,308.24 L476.00,315.58 L476.20,322.80 L476.40,329.88 L476.60,336.82 L476.80,343.62 L477.00,350.26 L477.20,356.73 L477.40,363.03 L477.60,369.15 L477.80,375.06 L478.00,380.76 L478.20,386.21 L478.40,391.40 L478.60,396.28 L478.80,400.81 L479.00,404.89 L479.20,408.38 L479.40,410.73 L479.60,410.64 L479.80,410.46 L480.00,410.15 L480.20,409.64 L480.40,408.91 L480.60,407.96 L480.80,406.86 L481.00,405.76 L481.20,404.87 L481.40,404.37 L481.50,404.30 L481.60,404.37 L481.80,404.87 L482.00,405.76 L482.20,404.12 L482.40,400.72 L482.60,396.14 L482.80,390.55 L483.00,384.05 L483.20,376.77 L483.40,368.84 L483.60,360.33 L483.80,351.34 L484.00,341.92 L484.20,332.09 L484.40,321.90 L484.60,311.36 L484.80,300.49 L485.00,289.30 L485.20,298.16 L485.40,306.82 L485.60,315.28 L485.80,323.53 L486.00,331.57 L486.20,339.38 L486.40,346.95 L486.60,354.27 L486.80,361.33 L487.00,368.12 L487.20,374.61 L487.40,380.78 L487.60,386.60 L487.80,392.06 L488.00,397.08 L488.20,401.63 L488.40,405.60 L488.60,408.83 L488.80,410.80 L489.00,410.80 L489.20,410.80 L489.40,410.80 L489.60,410.80 L489.80,410.80 L490.00,410.80 L490.20,410.80 L490.40,410.80 L490.60,410.80 L490.80,410.80 L491.00,410.80 L491.20,410.80 L491.40,410.80 L491.60,410.80 L491.80,410.80 L492.00,410.80 L492.20,410.80 L492.40,410.80 L492.60,410.80 L492.80,410.80 L493.00,410.80 L493.20,410.80 L493.40,410.80 L493.60,410.80 L493.80,410.80 L494.00,410.80 L494.20,410.80 L494.40,410.80 L494.60,410.80 L494.80,410.80 L495.00,410.80 L495.20,410.80 L495.40,410.80 L495.60,410.80 L495.80,410.78 L496.00,410.73 L496.20,410.55 L496.40,410.04 L496.60,408.81 L496.80,406.37 L497.00,402.39 L497.20,397.21 L497.40,392.09 L497.60,388.84 L497.70,388.40 L497.80,388.80 L498.00,390.10 L498.20,392.01 L498.40,394.32 L498.60,396.83 L498.80,399.29 L499.00,401.55 L499.20,403.49 L499.40,405.06 L499.60,406.28 L499.80,407.18 L500.00,407.84 L500.20,408.31 L500.40,408.66 L500.60,408.91 L500.80,409.12 L501.00,409.28 L501.20,409.42 L501.40,409.55 L501.60,409.66 L501.80,409.76 L502.00,409.85 L502.20,409.93 L502.40,410.01 L502.60,410.08 L502.80,410.14 L503.00,410.20 L503.20,410.25 L503.40,410.30 L503.60,410.34 L503.80,410.38 L504.00,410.42 L504.20,410.45 L504.40,410.48 L504.60,410.51 L504.80,410.53 L505.00,410.56 L505.20,410.58 L505.40,410.60 L505.60,410.61 L505.80,410.63 L506.00,410.65 L506.20,410.66 L506.40,410.67 L506.60,410.68 L506.80,410.69 L507.00,410.70 L507.20,410.71 L507.40,410.72 L507.60,410.73 L507.80,410.73 L508.00,410.74 L508.20,410.74 L508.40,410.75 L508.60,410.75 L508.80,410.76 L509.00,410.76 L509.20,410.76 L509.40,410.77 L509.60,410.77 L509.80,410.77 L510.00,410.77 L510.20,410.78 L510.40,410.78 L510.60,410.78 L510.80,410.78 L511.00,410.78 L511.20,410.79 L511.40,410.79 L511.60,410.79 L511.80,410.79 L512.00,410.79 L512.20,410.79 L512.40,410.79 L512.60,410.79 L512.80,410.79 L513.00,410.79 L513.20,410.79 L513.40,410.79 L513.60,410.79 L513.80,410.79 L514.00,410.79 L514.20,410.79 L514.40,410.78 L514.60,410.78 L514.80,410.77 L515.00,410.75 L515.20,410.73 L515.40,410.69 L515.60,410.64 L515.80,410.58 L516.00,410.50 L516.20,410.40 L516.40,410.27 L516.60,410.13 L516.80,409.96 L517.00,409.77 L517.20,409.57 L517.40,409.36 L517.60,409.16 L517.80,408.98 L518.00,408.82 L518.20,408.70 L518.40,408.63 L518.60,408.60 L518.80,408.63 L519.00,408.70 L519.20,408.82 L519.40,408.98 L519.60,409.16 L519.80,409.36 L520.00,409.57 L520.20,409.77 L520.40,409.96 L520.60,410.13 L520.80,410.27 L521.00,410.40 L521.20,410.50 L521.40,410.58 L521.60,410.65 L521.80,410.69 L522.00,410.73 L522.20,410.75 L522.40,410.77 L522.60,410.78 L522.80,410.79 L523.00,410.79 L523.20,410.80 L523.40,410.80 L523.60,410.80 L523.80,410.80 L524.00,410.80 L524.20,410.80 L524.40,410.80 L524.60,410.80 L524.80,410.80 L525.00,410.80 L525.20,410.80 L525.40,410.80 L525.60,410.80 L525.80,410.80 L526.00,410.80 L526.20,410.80 L526.40,410.80 L526.60,410.80 L526.80,410.80 L527.00,410.80 L527.20,410.80 L527.40,410.80 L527.60,410.80 L527.80,410.80 L528.00,410.80 L528.20,410.80 L528.40,410.80 L528.60,410.80 L528.80,410.80 L529.00,410.80 L529.20,410.80 L529.40,410.80 L529.60,410.80 L529.80,410.80 L530.00,410.80 L530.20,410.80 L530.40,410.80 L530.60,410.80 L530.80,410.80 L531.00,410.80 L531.20,410.80 L531.40,410.80 L531.60,410.80 L531.80,410.80 L532.00,410.80 L532.20,410.80 L532.40,410.80 L532.60,410.80 L532.80,410.79 L533.00,410.78 L533.20,410.74 L533.40,410.63 L533.60,410.37 L533.80,409.81 L534.00,408.76 L534.20,407.03 L534.40,404.59 L534.60,401.64 L534.80,398.71 L535.00,396.52 L535.20,395.70 L535.40,396.17 L535.60,396.86 L535.80,397.73 L536.00,398.76 L536.20,399.90 L536.40,401.09 L536.60,402.29 L536.80,403.46 L537.00,404.54 L537.20,405.53 L537.40,406.40 L537.60,407.14 L537.80,407.77 L538.00,408.28 L538.20,408.70 L538.40,409.03 L538.60,409.29 L538.80,409.50 L539.00,409.66 L539.20,409.79 L539.40,409.90 L539.60,409.99 L539.80,410.06 L540.00,410.12 L540.20,410.18 L540.40,410.23 L540.60,410.28 L540.80,410.32 L541.00,410.35 L541.20,410.39 L541.40,410.42 L541.60,410.45 L541.80,410.48 L542.00,410.50 L542.20,410.52 L542.40,410.55 L542.60,410.57 L542.80,410.58 L543.00,410.60 L543.20,410.62 L543.40,410.63 L543.60,410.64 L543.80,410.65 L544.00,410.67 L544.20,410.68 L544.40,410.69 L544.60,410.69 L544.80,410.70 L545.00,410.71 L545.20,410.71 L545.40,410.71 L545.60,410.70 L545.80,410.67 L546.00,410.62 L546.20,410.54 L546.40,410.40 L546.60,410.22 L546.80,409.98 L547.00,409.70 L547.20,409.40 L547.40,409.12 L547.60,408.90 L547.80,408.79 L547.90,408.77 L548.00,408.79 L548.20,408.91 L548.40,409.13 L548.60,409.41 L548.80,409.72 L549.00,410.00 L549.20,410.25 L549.40,410.44 L549.60,410.58 L549.80,410.67 L550.00,410.72 L550.20,410.76 L550.40,410.77 L550.60,410.78 L550.80,410.79 L551.00,410.79 L551.20,410.79 L551.40,410.79 L551.60,410.79 L551.80,410.79 L552.00,410.79 L552.20,410.79 L552.40,410.80 L552.60,410.80 L552.80,410.80 L553.00,410.80 L553.20,410.80 L553.40,410.80 L553.60,410.80 L553.80,410.80 L554.00,410.80 L554.20,410.80 L554.40,410.80 L554.60,410.80 L554.80,410.80 L555.00,410.80 L555.20,410.80 L555.40,410.80 L555.60,410.80 L555.80,410.80 L556.00,410.80 L556.20,410.80 L556.40,410.80 L556.60,410.80 L556.80,410.80 L557.00,410.80 L557.20,410.80 L557.40,410.80 L557.60,410.80 L557.80,410.80 L558.00,410.80 L558.20,410.80 L558.40,410.80 L558.60,410.80 L558.80,410.80 L559.00,410.80 L559.20,410.80 L559.40,410.80 L559.60,410.80 L559.80,410.80 L560.00,410.80 L560.20,410.80 L560.40,410.80 L560.60,410.80 L560.80,410.80 L561.00,410.80 L561.20,410.80 L561.40,410.80 L561.60,410.80 L561.80,410.80 L562.00,410.80 L562.20,410.80 L562.40,410.80 L562.60,410.80 L562.80,410.80 L563.00,410.80 L563.20,410.80 L563.40,410.80 L563.60,410.80 L563.80,410.80 L564.00,410.80 L564.20,410.79 L564.40,410.78 L564.60,410.76 L564.80,410.74 L565.00,410.69 L565.20,410.63 L565.40,410.54 L565.60,410.43 L565.80,410.31 L566.00,410.20 L566.20,410.09 L566.40,410.02 L566.60,410.00 L566.80,410.02 L567.00,410.09 L567.20,410.20 L567.40,410.31 L567.60,410.43 L567.80,410.54 L568.00,410.63 L568.20,410.69 L568.40,410.74 L568.60,410.76 L568.80,410.78 L569.00,410.79 L569.20,410.80 L569.40,410.80 L569.60,410.80 L569.80,410.80 L570.00,410.80 L570.20,410.80 L570.40,410.80 L570.60,410.80 L570.80,410.80 L571.00,410.80 L571.20,410.80 L571.40,410.80 L571.60,410.80 L571.80,410.80 L572.00,410.80 L572.20,410.80 L572.40,410.80 L572.60,410.80 L572.80,410.80 L573.00,410.80 L573.20,410.80 L573.40,410.80 L573.60,410.80 L573.80,410.80 L574.00,410.80 L574.20,410.80 L574.40,410.80 L574.60,410.80 L574.80,410.80 L575.00,410.80 L575.20,410.80 L575.40,410.80 L575.60,410.80 L575.80,410.80 L576.00,410.80 L576.20,410.80 L576.40,410.80 L576.60,410.80 L576.80,410.80 L577.00,410.80 L577.20,410.80 L577.40,410.80 L577.60,410.80 L577.80,410.80 L578.00,410.80 L578.20,410.80 L578.40,410.80 L578.60,410.80 L578.80,410.80 L579.00,410.80 L579.20,410.80 L579.40,410.80 L579.60,410.80 L579.80,410.80 L580.00,410.80 L580.20,410.80 L580.40,410.80 L580.60,410.80 L580.80,410.80 L581.00,410.80 L581.20,410.80 L581.40,410.80 L581.60,410.80 L581.80,410.80 L582.00,410.80 L582.20,410.80 L582.40,410.80 L582.60,410.80 L582.80,410.80 L583.00,410.80 L583.20,410.80 L583.40,410.80 L583.60,410.80 L583.80,410.80 L584.00,410.79 L584.20,410.79 L584.40,410.78 L584.60,410.77 L584.80,410.75 L585.00,410.73 L585.20,410.69 L585.40,410.64 L585.60,410.57 L585.80,410.48 L586.00,410.37 L586.20,410.23 L586.40,410.07 L586.60,409.88 L586.80,409.69 L587.00,409.49 L587.20,409.29 L587.40,409.11 L587.60,408.97 L587.80,408.86 L588.00,408.81 L588.10,408.80 L588.20,408.81 L588.40,408.86 L588.60,408.97 L588.80,409.11 L589.00,409.29 L589.20,409.49 L589.40,409.69 L589.60,409.88 L589.80,410.07 L590.00,410.23 L590.20,410.37 L590.40,410.48 L590.60,410.57 L590.80,410.64 L591.00,410.69 L591.20,410.73 L591.40,410.75 L591.60,410.77 L591.80,410.78 L592.00,410.79 L592.20,410.79 L592.40,410.80 L592.60,410.80 L592.80,410.80 L593.00,410.80 L593.20,410.80 L593.40,410.80 L593.60,410.80 L593.80,410.80 L594.00,410.80 L594.20,410.80 L594.40,410.80 L594.60,410.80 L594.80,410.80 L595.00,410.80 L595.20,410.80 L595.40,410.80 L595.60,410.80 L595.80,410.80 L596.00,410.80 L596.20,410.80 L596.40,410.80 L596.60,410.80 L596.80,410.80 L597.00,410.80 L597.20,410.80 L597.40,410.80 L597.60,410.80 L597.80,410.80 L598.00,410.80 L598.20,410.80 L598.40,410.80 L598.60,410.80 L598.80,410.80 L599.00,410.80 L599.20,410.80 L599.40,410.80 L599.60,410.80 L599.80,410.80 L600.00,410.80 L600.20,410.80 L600.40,410.80" fill="none" stroke="#222" stroke-width="1.0" stroke-linejoin="round"/>
<g transform="translate(333.50,420.70)"><text x="-22.72" y="2.51" font-family='"Liberation Sans", sans-serif' font-weight="normal" font-size="9.7" fill="#1a1a1a" stroke="#1a1a1a" stroke-width="0.25">Time (sec)</text></g>
<g transform="translate(371.35,233.30)"><text x="-11.10" y="3.85" font-family='"Liberation Serif", serif' font-weight="bold" font-size="16" fill="#1a1a1a" stroke="#1a1a1a" stroke-width="0.4">(D)</text></g>
<g transform="translate(562.05,235.85)"><text x="-23.84" y="3.93" font-family='"Liberation Sans", sans-serif' font-weight="bold" font-size="11" fill="#1a1a1a">ShTPS 7</text><path transform="translate(11.61,3.93) scale(0.005371,-0.005371)" d="M478,0 L478,1170 L140,959 L140,1180 L493,1409 L759,1409 L759,0 Z" fill="#1a1a1a"/></g>
<g transform="translate(470.15,257.90)"><text x="-2.70" y="3.29" font-family='"Liberation Sans", sans-serif' font-weight="normal" font-size="9.7" fill="#1a1a1a" stroke="#1a1a1a" stroke-width="0.25">5</text></g>
<g transform="translate(461.50,336.80)"><text x="-2.70" y="3.34" font-family='"Liberation Sans", sans-serif' font-weight="normal" font-size="9.7" fill="#1a1a1a" stroke="#1a1a1a" stroke-width="0.25">4</text></g>
<g transform="translate(458.95,386.95)"><text x="-2.70" y="3.34" font-family='"Liberation Sans", sans-serif' font-weight="normal" font-size="9.7" fill="#1a1a1a" stroke="#1a1a1a" stroke-width="0.25">3</text></g>
<circle cx="484.90" cy="283.40" r="1.25" fill="#1a1a1a"/>
</g>
</svg>
</body></html>
